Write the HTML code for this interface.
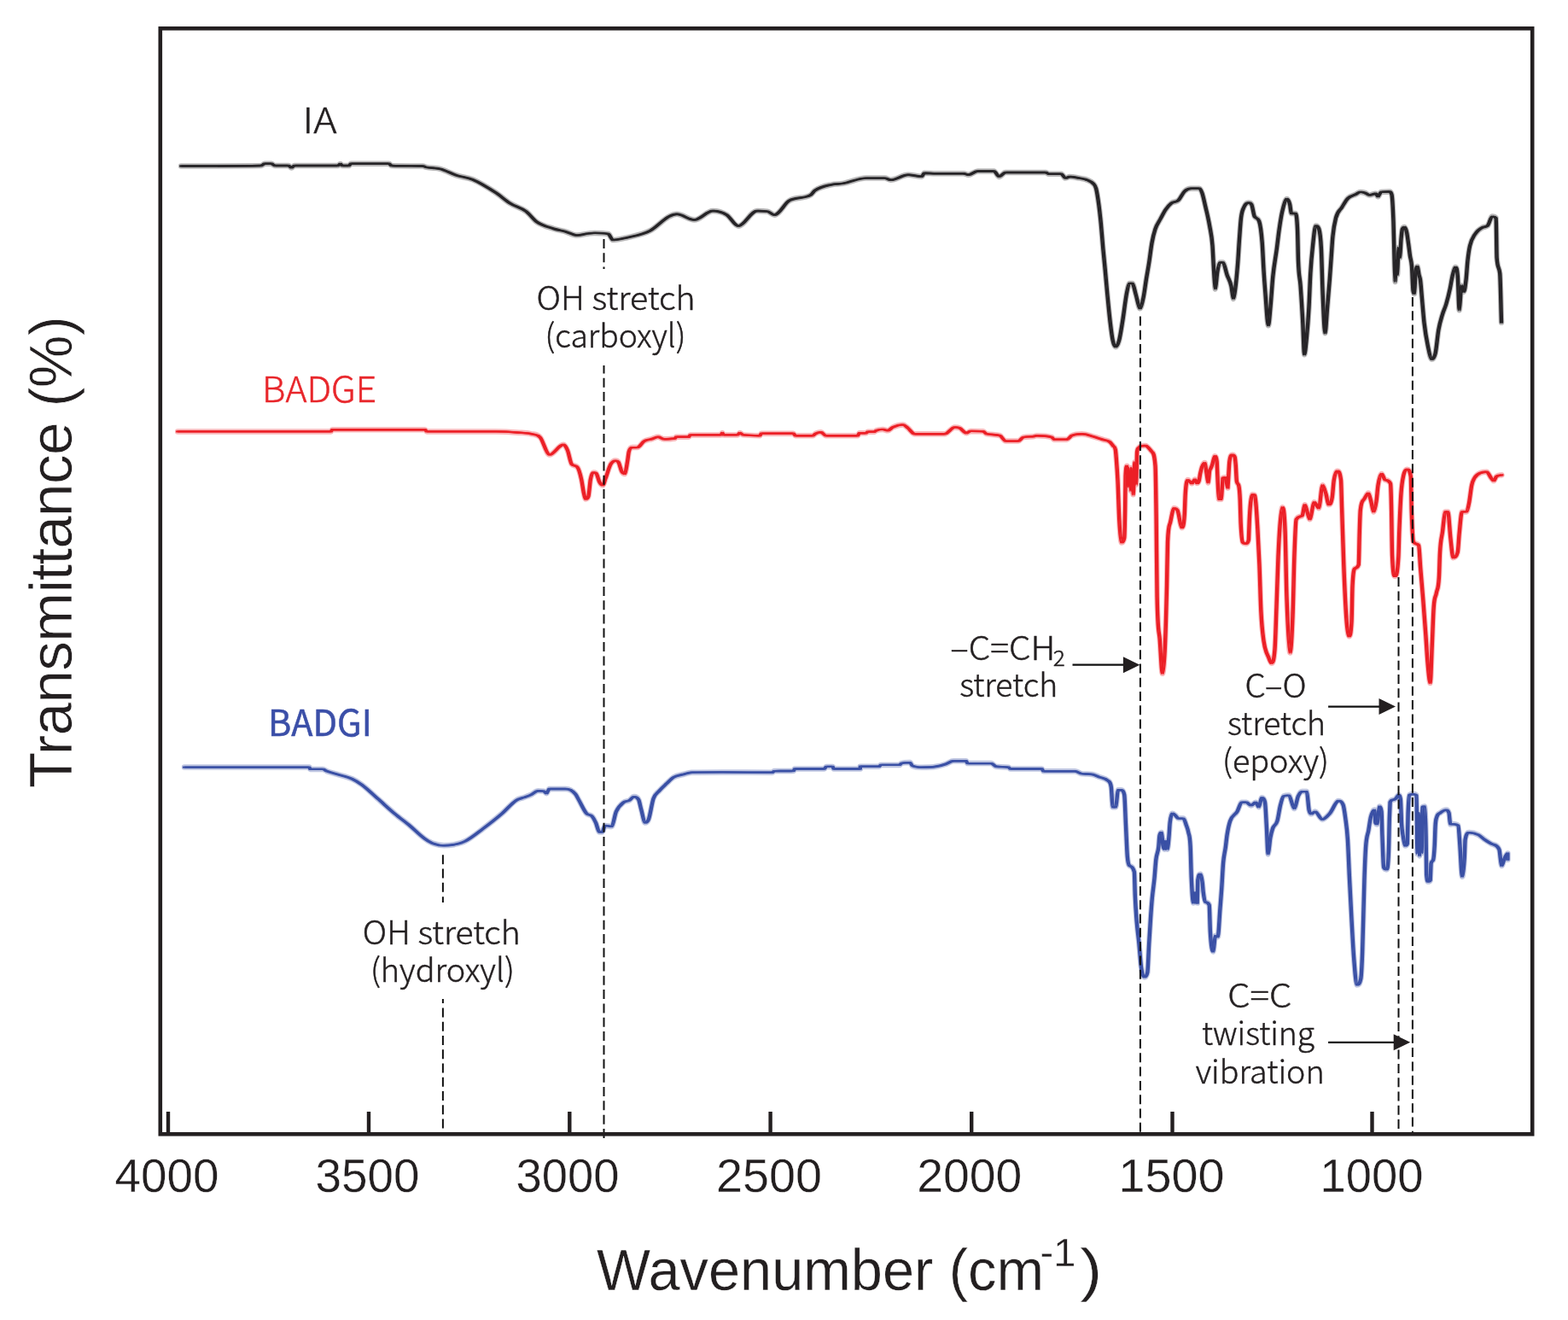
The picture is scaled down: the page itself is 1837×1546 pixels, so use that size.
<!DOCTYPE html>
<html><head><meta charset="utf-8"><title>FTIR spectra</title>
<style>
html,body{margin:0;padding:0;background:#fff;overflow:hidden;width:1837px;height:1546px;}
svg{display:block;}
</style></head><body>
<svg width="1837" height="1546" viewBox="0 0 1837 1546">
<rect x="0" y="0" width="1837" height="1546" fill="#fff"/>
<path d="M212.2,194.5 C243.5,194.5 274.7,194.5 306.0,194.0 C307.3,194.0 308.7,191.8 310.0,191.8 C312.7,191.8 315.3,191.8 318.0,191.8 C319.3,191.8 320.7,194.0 322.0,194.0 C327.3,194.0 332.7,194.0 338.0,194.0 C339.2,194.0 340.3,196.4 341.5,196.4 C342.7,196.4 343.8,194.0 345.0,194.0 C362.0,194.0 379.0,194.0 396.0,194.0 C396.9,194.0 397.8,192.0 398.7,192.0 C399.5,192.0 400.2,194.0 401.0,194.0 C403.7,194.0 406.3,194.0 409.0,194.0 C409.7,194.0 410.3,191.8 411.0,191.8 C425.9,191.8 440.9,191.8 455.8,191.8 C456.7,191.8 457.7,194.0 458.6,194.0 C470.8,194.5 483.1,194.3 495.3,194.5 C496.7,194.5 498.0,195.6 499.4,195.9 C504.8,197.1 510.3,196.4 515.7,197.8 C522.1,199.4 528.4,203.3 534.8,205.4 C541.1,207.5 547.5,207.7 553.8,210.3 C562.9,214.1 571.9,219.8 581.0,225.8 C586.5,229.4 591.9,234.6 597.4,238.0 C603.7,242.0 610.1,242.9 616.4,247.6 C620.5,250.7 624.6,256.9 628.7,259.8 C635.5,264.5 642.2,265.8 649.0,268.0 C653.6,269.5 658.1,270.0 662.7,271.3 C667.2,272.6 671.8,275.6 676.3,275.6 C680.9,275.6 685.4,273.9 690.0,273.4 C692.1,273.1 694.2,272.9 696.3,272.9 C701.8,272.9 707.2,272.9 712.7,274.0 C714.5,274.4 716.2,281.0 718.0,281.0 C723.5,281.0 728.9,279.6 734.4,278.3 C743.5,276.2 752.6,275.0 761.7,270.2 C768.9,266.4 776.2,257.7 783.4,253.8 C786.6,252.1 789.8,250.8 793.0,250.8 C799.8,250.8 806.6,257.6 813.4,257.6 C820.6,257.6 827.9,247.0 835.1,247.0 C840.6,247.0 846.0,248.3 851.5,251.7 C856.0,254.5 860.5,264.7 865.0,264.7 C872.3,264.7 879.6,247.0 886.9,247.0 C891.0,247.0 895.0,247.0 899.1,247.6 C901.8,248.0 904.6,251.7 907.3,251.7 C913.2,251.7 919.1,237.9 925.0,234.8 C933.2,230.5 941.3,233.1 949.5,228.5 C951.3,227.5 953.1,224.2 954.9,223.0 C961.3,218.6 967.6,217.7 974.0,216.3 C978.5,215.3 983.1,215.7 987.6,214.9 C996.7,213.4 1005.7,208.6 1014.8,208.6 C1022.1,208.6 1029.3,208.6 1036.6,208.6 C1038.9,208.6 1041.1,210.8 1043.4,210.8 C1050.2,210.8 1057.0,204.8 1063.8,204.8 C1069.2,204.8 1074.6,206.7 1080.0,206.7 C1080.9,206.7 1081.9,202.7 1082.8,202.7 C1087.3,202.7 1091.9,203.2 1096.4,203.2 C1107.3,203.2 1118.1,203.2 1129.0,203.2 C1130.8,203.2 1132.7,204.8 1134.5,204.8 C1138.1,204.8 1141.8,200.5 1145.4,200.5 C1151.8,200.5 1158.1,200.5 1164.5,200.5 C1166.5,200.5 1168.6,206.9 1170.6,206.9 C1173.1,206.9 1175.5,202.0 1178.0,202.0 C1193.8,202.0 1209.5,202.0 1225.3,202.0 C1226.4,202.0 1227.5,203.7 1228.6,203.7 C1233.5,203.7 1238.4,203.7 1243.3,203.7 C1244.9,203.7 1246.6,208.6 1248.2,208.6 C1249.8,208.6 1251.5,207.0 1253.1,207.0 C1256.9,207.0 1260.7,207.9 1264.5,208.6 C1267.8,209.2 1271.0,209.6 1274.3,211.0 C1276.5,212.0 1278.7,212.5 1280.9,215.1 C1282.0,216.4 1283.0,216.7 1284.1,220.8 C1285.2,225.0 1286.3,232.3 1287.4,240.4 C1288.2,246.3 1289.0,253.5 1289.8,261.7 C1290.6,270.3 1291.5,281.8 1292.3,291.0 C1293.1,299.8 1293.9,307.1 1294.7,315.6 C1295.5,324.5 1296.4,334.6 1297.2,343.3 C1298.3,354.8 1299.4,366.6 1300.5,376.0 C1301.6,385.1 1302.6,393.8 1303.7,398.8 C1304.8,404.0 1305.9,406.2 1307.0,406.2 C1308.4,406.2 1309.7,403.8 1311.1,398.8 C1312.5,393.8 1313.8,384.5 1315.2,376.0 C1316.8,366.1 1318.4,351.5 1320.0,343.3 C1321.1,337.7 1322.2,331.9 1323.3,331.9 C1324.4,331.9 1325.5,331.9 1326.6,331.9 C1328.0,331.9 1329.3,340.5 1330.7,345.0 C1332.3,350.3 1334.0,361.3 1335.6,361.3 C1336.9,361.3 1338.3,354.7 1339.6,348.2 C1340.7,342.9 1341.8,333.8 1342.9,327.0 C1344.0,320.2 1345.1,314.5 1346.2,307.4 C1347.3,300.3 1348.4,290.6 1349.5,284.5 C1350.8,277.2 1352.2,272.2 1353.5,268.2 C1355.4,262.4 1357.4,260.4 1359.3,256.8 C1361.5,252.8 1363.6,248.4 1365.8,245.3 C1368.0,242.2 1370.1,239.7 1372.3,238.0 C1375.0,235.9 1377.8,237.2 1380.5,234.7 C1382.9,232.4 1385.4,226.4 1387.8,224.1 C1390.3,221.8 1392.7,220.8 1395.2,220.8 C1398.5,220.8 1401.7,220.8 1405.0,220.8 C1406.1,220.8 1407.1,222.7 1408.2,225.7 C1409.6,229.5 1410.9,236.2 1412.3,242.1 C1413.9,249.2 1415.6,255.4 1417.2,264.9 C1418.3,271.3 1419.4,273.9 1420.5,287.8 C1421.0,294.6 1421.6,309.0 1422.1,317.2 C1422.7,325.9 1423.2,338.4 1423.8,338.4 C1424.6,338.4 1425.4,323.4 1426.2,318.8 C1427.3,312.4 1428.4,307.4 1429.5,307.4 C1430.6,307.4 1431.6,307.4 1432.7,307.4 C1434.3,307.4 1436.0,317.5 1437.6,322.1 C1439.2,326.7 1440.9,328.2 1442.5,335.2 C1443.3,338.8 1444.2,349.9 1445.0,349.9 C1445.8,349.9 1446.6,343.1 1447.4,336.8 C1448.3,330.0 1449.1,321.0 1450.0,310.0 C1450.7,301.6 1451.3,289.2 1452.0,280.0 C1452.7,270.8 1453.3,260.4 1454.0,255.0 C1455.1,246.3 1456.1,245.5 1457.2,242.9 C1459.0,238.6 1460.8,237.5 1462.6,237.5 C1463.8,237.5 1465.0,237.5 1466.2,239.3 C1467.4,241.1 1468.6,251.7 1469.8,253.6 C1471.6,256.5 1473.3,254.4 1475.1,259.0 C1476.3,262.1 1477.5,269.2 1478.7,284.2 C1479.3,291.7 1479.9,306.9 1480.5,316.5 C1481.1,326.1 1481.7,334.2 1482.3,341.7 C1483.5,356.7 1484.7,381.2 1485.9,381.2 C1486.8,381.2 1487.7,367.4 1488.6,357.8 C1489.5,348.2 1490.4,332.6 1491.3,323.7 C1492.8,308.8 1494.3,302.8 1495.8,291.4 C1496.7,284.6 1497.6,276.1 1498.5,269.8 C1499.7,261.4 1500.9,253.6 1502.1,248.3 C1503.9,240.4 1505.7,233.0 1507.5,233.0 C1508.7,233.0 1509.9,234.7 1511.1,239.3 C1511.7,241.6 1512.3,250.0 1512.9,250.0 C1514.4,250.0 1515.9,250.0 1517.4,250.0 C1518.3,250.0 1519.2,250.0 1520.1,269.8 C1520.4,276.4 1520.7,298.1 1521.0,305.7 C1521.9,327.8 1522.7,322.8 1523.6,334.5 C1524.5,346.7 1525.4,361.0 1526.3,377.6 C1526.9,388.7 1527.5,415.3 1528.1,415.3 C1529.0,415.3 1529.9,404.9 1530.8,395.6 C1531.7,386.3 1532.6,375.5 1533.5,359.6 C1534.1,349.0 1534.7,330.3 1535.3,320.1 C1536.2,304.8 1537.1,296.1 1538.0,287.8 C1539.2,276.7 1540.4,264.4 1541.6,264.4 C1542.8,264.4 1544.0,264.4 1545.2,268.0 C1546.1,270.7 1547.0,274.0 1547.9,291.4 C1548.5,303.0 1549.1,331.3 1549.7,345.3 C1550.6,366.3 1551.5,390.2 1552.4,390.2 C1553.3,390.2 1554.2,370.1 1555.1,359.6 C1556.0,349.1 1556.9,339.0 1557.8,327.3 C1558.4,319.5 1559.0,310.5 1559.6,302.1 C1560.2,293.7 1560.8,283.0 1561.4,277.0 C1562.6,265.0 1563.8,260.1 1565.0,255.4 C1567.4,246.2 1569.7,246.8 1572.1,242.9 C1574.5,239.0 1576.9,234.5 1579.3,232.1 C1582.3,229.1 1585.3,229.1 1588.3,227.6 C1590.1,226.7 1591.9,224.9 1593.7,224.9 C1595.5,224.9 1597.3,225.2 1599.1,225.8 C1600.9,226.4 1602.7,228.5 1604.5,228.5 C1606.9,228.5 1609.3,226.7 1611.7,226.7 C1612.6,226.7 1613.5,230.3 1614.4,230.3 C1615.6,230.3 1616.8,225.0 1618.0,224.9 C1621.3,224.5 1624.5,224.5 1627.8,224.5 C1628.7,224.5 1629.6,224.5 1630.5,228.0 C1631.2,230.6 1631.8,241.3 1632.5,260.0 C1632.8,269.3 1633.2,288.3 1633.5,300.0 C1633.8,311.7 1634.2,330.0 1634.5,330.0 C1635.0,330.0 1635.5,305.0 1636.0,305.0 C1636.3,305.0 1636.7,322.0 1637.0,322.0 C1637.5,322.0 1638.0,290.0 1638.5,290.0 C1639.0,290.0 1639.5,302.0 1640.0,302.0 C1640.5,302.0 1641.0,285.7 1641.5,280.0 C1642.0,274.3 1642.5,269.2 1643.0,268.0 C1643.8,266.0 1644.7,266.0 1645.5,266.0 C1646.3,266.0 1647.2,268.3 1648.0,272.0 C1648.7,275.0 1649.3,280.3 1650.0,285.0 C1650.7,289.7 1651.3,295.5 1652.0,300.0 C1652.7,304.5 1653.3,303.8 1654.0,312.0 C1654.5,318.2 1655.0,336.0 1655.5,340.0 C1656.0,344.0 1656.5,344.0 1657.0,344.0 C1657.5,344.0 1658.0,322.5 1658.5,318.0 C1659.2,312.0 1659.8,312.0 1660.5,312.0 C1661.2,312.0 1661.8,319.0 1662.5,322.0 C1663.0,324.2 1663.5,324.2 1664.0,328.0 C1664.7,333.0 1665.3,342.6 1666.0,350.0 C1666.8,359.2 1667.7,370.7 1668.5,378.0 C1669.9,390.3 1671.3,397.6 1672.7,404.5 C1674.2,411.9 1675.7,420.7 1677.2,420.7 C1678.7,420.7 1680.2,420.3 1681.7,413.5 C1682.9,408.1 1684.1,393.5 1685.3,386.6 C1686.8,378.0 1688.3,373.7 1689.8,368.6 C1691.3,363.5 1692.8,361.1 1694.3,356.0 C1695.8,350.9 1697.3,345.1 1698.8,338.1 C1699.7,333.9 1700.6,327.5 1701.5,323.7 C1702.7,318.7 1703.9,312.9 1705.1,312.9 C1706.0,312.9 1706.9,312.9 1707.8,323.7 C1708.4,330.9 1709.0,363.2 1709.6,363.2 C1710.5,363.2 1711.4,334.5 1712.3,334.5 C1713.2,334.5 1714.1,341.7 1715.0,341.7 C1715.9,341.7 1716.7,334.9 1717.6,327.3 C1718.2,322.0 1718.8,311.3 1719.4,305.7 C1720.3,297.3 1721.2,291.8 1722.1,287.8 C1723.9,279.7 1725.7,278.1 1727.5,275.2 C1730.8,269.9 1734.1,267.8 1737.4,266.2 C1739.2,265.4 1741.0,266.0 1742.8,264.4 C1744.6,262.8 1746.4,253.6 1748.2,253.6 C1749.7,253.6 1751.2,253.6 1752.7,255.4 C1753.0,255.8 1753.3,298.3 1753.6,302.1 C1754.8,317.2 1756.0,310.3 1757.2,320.1 C1757.8,325.0 1758.4,358.4 1759.0,377.6" fill="none" stroke="#262427" stroke-opacity="0.33" stroke-width="6.5" stroke-linejoin="round" stroke-linecap="round"/>
<path d="M212.2,194.5 C243.5,194.5 274.7,194.5 306.0,194.0 C307.3,194.0 308.7,191.8 310.0,191.8 C312.7,191.8 315.3,191.8 318.0,191.8 C319.3,191.8 320.7,194.0 322.0,194.0 C327.3,194.0 332.7,194.0 338.0,194.0 C339.2,194.0 340.3,196.4 341.5,196.4 C342.7,196.4 343.8,194.0 345.0,194.0 C362.0,194.0 379.0,194.0 396.0,194.0 C396.9,194.0 397.8,192.0 398.7,192.0 C399.5,192.0 400.2,194.0 401.0,194.0 C403.7,194.0 406.3,194.0 409.0,194.0 C409.7,194.0 410.3,191.8 411.0,191.8 C425.9,191.8 440.9,191.8 455.8,191.8 C456.7,191.8 457.7,194.0 458.6,194.0 C470.8,194.5 483.1,194.3 495.3,194.5 C496.7,194.5 498.0,195.6 499.4,195.9 C504.8,197.1 510.3,196.4 515.7,197.8 C522.1,199.4 528.4,203.3 534.8,205.4 C541.1,207.5 547.5,207.7 553.8,210.3 C562.9,214.1 571.9,219.8 581.0,225.8 C586.5,229.4 591.9,234.6 597.4,238.0 C603.7,242.0 610.1,242.9 616.4,247.6 C620.5,250.7 624.6,256.9 628.7,259.8 C635.5,264.5 642.2,265.8 649.0,268.0 C653.6,269.5 658.1,270.0 662.7,271.3 C667.2,272.6 671.8,275.6 676.3,275.6 C680.9,275.6 685.4,273.9 690.0,273.4 C692.1,273.1 694.2,272.9 696.3,272.9 C701.8,272.9 707.2,272.9 712.7,274.0 C714.5,274.4 716.2,281.0 718.0,281.0 C723.5,281.0 728.9,279.6 734.4,278.3 C743.5,276.2 752.6,275.0 761.7,270.2 C768.9,266.4 776.2,257.7 783.4,253.8 C786.6,252.1 789.8,250.8 793.0,250.8 C799.8,250.8 806.6,257.6 813.4,257.6 C820.6,257.6 827.9,247.0 835.1,247.0 C840.6,247.0 846.0,248.3 851.5,251.7 C856.0,254.5 860.5,264.7 865.0,264.7 C872.3,264.7 879.6,247.0 886.9,247.0 C891.0,247.0 895.0,247.0 899.1,247.6 C901.8,248.0 904.6,251.7 907.3,251.7 C913.2,251.7 919.1,237.9 925.0,234.8 C933.2,230.5 941.3,233.1 949.5,228.5 C951.3,227.5 953.1,224.2 954.9,223.0 C961.3,218.6 967.6,217.7 974.0,216.3 C978.5,215.3 983.1,215.7 987.6,214.9 C996.7,213.4 1005.7,208.6 1014.8,208.6 C1022.1,208.6 1029.3,208.6 1036.6,208.6 C1038.9,208.6 1041.1,210.8 1043.4,210.8 C1050.2,210.8 1057.0,204.8 1063.8,204.8 C1069.2,204.8 1074.6,206.7 1080.0,206.7 C1080.9,206.7 1081.9,202.7 1082.8,202.7 C1087.3,202.7 1091.9,203.2 1096.4,203.2 C1107.3,203.2 1118.1,203.2 1129.0,203.2 C1130.8,203.2 1132.7,204.8 1134.5,204.8 C1138.1,204.8 1141.8,200.5 1145.4,200.5 C1151.8,200.5 1158.1,200.5 1164.5,200.5 C1166.5,200.5 1168.6,206.9 1170.6,206.9 C1173.1,206.9 1175.5,202.0 1178.0,202.0 C1193.8,202.0 1209.5,202.0 1225.3,202.0 C1226.4,202.0 1227.5,203.7 1228.6,203.7 C1233.5,203.7 1238.4,203.7 1243.3,203.7 C1244.9,203.7 1246.6,208.6 1248.2,208.6 C1249.8,208.6 1251.5,207.0 1253.1,207.0 C1256.9,207.0 1260.7,207.9 1264.5,208.6 C1267.8,209.2 1271.0,209.6 1274.3,211.0 C1276.5,212.0 1278.7,212.5 1280.9,215.1 C1282.0,216.4 1283.0,216.7 1284.1,220.8 C1285.2,225.0 1286.3,232.3 1287.4,240.4 C1288.2,246.3 1289.0,253.5 1289.8,261.7 C1290.6,270.3 1291.5,281.8 1292.3,291.0 C1293.1,299.8 1293.9,307.1 1294.7,315.6 C1295.5,324.5 1296.4,334.6 1297.2,343.3 C1298.3,354.8 1299.4,366.6 1300.5,376.0 C1301.6,385.1 1302.6,393.8 1303.7,398.8 C1304.8,404.0 1305.9,406.2 1307.0,406.2 C1308.4,406.2 1309.7,403.8 1311.1,398.8 C1312.5,393.8 1313.8,384.5 1315.2,376.0 C1316.8,366.1 1318.4,351.5 1320.0,343.3 C1321.1,337.7 1322.2,331.9 1323.3,331.9 C1324.4,331.9 1325.5,331.9 1326.6,331.9 C1328.0,331.9 1329.3,340.5 1330.7,345.0 C1332.3,350.3 1334.0,361.3 1335.6,361.3 C1336.9,361.3 1338.3,354.7 1339.6,348.2 C1340.7,342.9 1341.8,333.8 1342.9,327.0 C1344.0,320.2 1345.1,314.5 1346.2,307.4 C1347.3,300.3 1348.4,290.6 1349.5,284.5 C1350.8,277.2 1352.2,272.2 1353.5,268.2 C1355.4,262.4 1357.4,260.4 1359.3,256.8 C1361.5,252.8 1363.6,248.4 1365.8,245.3 C1368.0,242.2 1370.1,239.7 1372.3,238.0 C1375.0,235.9 1377.8,237.2 1380.5,234.7 C1382.9,232.4 1385.4,226.4 1387.8,224.1 C1390.3,221.8 1392.7,220.8 1395.2,220.8 C1398.5,220.8 1401.7,220.8 1405.0,220.8 C1406.1,220.8 1407.1,222.7 1408.2,225.7 C1409.6,229.5 1410.9,236.2 1412.3,242.1 C1413.9,249.2 1415.6,255.4 1417.2,264.9 C1418.3,271.3 1419.4,273.9 1420.5,287.8 C1421.0,294.6 1421.6,309.0 1422.1,317.2 C1422.7,325.9 1423.2,338.4 1423.8,338.4 C1424.6,338.4 1425.4,323.4 1426.2,318.8 C1427.3,312.4 1428.4,307.4 1429.5,307.4 C1430.6,307.4 1431.6,307.4 1432.7,307.4 C1434.3,307.4 1436.0,317.5 1437.6,322.1 C1439.2,326.7 1440.9,328.2 1442.5,335.2 C1443.3,338.8 1444.2,349.9 1445.0,349.9 C1445.8,349.9 1446.6,343.1 1447.4,336.8 C1448.3,330.0 1449.1,321.0 1450.0,310.0 C1450.7,301.6 1451.3,289.2 1452.0,280.0 C1452.7,270.8 1453.3,260.4 1454.0,255.0 C1455.1,246.3 1456.1,245.5 1457.2,242.9 C1459.0,238.6 1460.8,237.5 1462.6,237.5 C1463.8,237.5 1465.0,237.5 1466.2,239.3 C1467.4,241.1 1468.6,251.7 1469.8,253.6 C1471.6,256.5 1473.3,254.4 1475.1,259.0 C1476.3,262.1 1477.5,269.2 1478.7,284.2 C1479.3,291.7 1479.9,306.9 1480.5,316.5 C1481.1,326.1 1481.7,334.2 1482.3,341.7 C1483.5,356.7 1484.7,381.2 1485.9,381.2 C1486.8,381.2 1487.7,367.4 1488.6,357.8 C1489.5,348.2 1490.4,332.6 1491.3,323.7 C1492.8,308.8 1494.3,302.8 1495.8,291.4 C1496.7,284.6 1497.6,276.1 1498.5,269.8 C1499.7,261.4 1500.9,253.6 1502.1,248.3 C1503.9,240.4 1505.7,233.0 1507.5,233.0 C1508.7,233.0 1509.9,234.7 1511.1,239.3 C1511.7,241.6 1512.3,250.0 1512.9,250.0 C1514.4,250.0 1515.9,250.0 1517.4,250.0 C1518.3,250.0 1519.2,250.0 1520.1,269.8 C1520.4,276.4 1520.7,298.1 1521.0,305.7 C1521.9,327.8 1522.7,322.8 1523.6,334.5 C1524.5,346.7 1525.4,361.0 1526.3,377.6 C1526.9,388.7 1527.5,415.3 1528.1,415.3 C1529.0,415.3 1529.9,404.9 1530.8,395.6 C1531.7,386.3 1532.6,375.5 1533.5,359.6 C1534.1,349.0 1534.7,330.3 1535.3,320.1 C1536.2,304.8 1537.1,296.1 1538.0,287.8 C1539.2,276.7 1540.4,264.4 1541.6,264.4 C1542.8,264.4 1544.0,264.4 1545.2,268.0 C1546.1,270.7 1547.0,274.0 1547.9,291.4 C1548.5,303.0 1549.1,331.3 1549.7,345.3 C1550.6,366.3 1551.5,390.2 1552.4,390.2 C1553.3,390.2 1554.2,370.1 1555.1,359.6 C1556.0,349.1 1556.9,339.0 1557.8,327.3 C1558.4,319.5 1559.0,310.5 1559.6,302.1 C1560.2,293.7 1560.8,283.0 1561.4,277.0 C1562.6,265.0 1563.8,260.1 1565.0,255.4 C1567.4,246.2 1569.7,246.8 1572.1,242.9 C1574.5,239.0 1576.9,234.5 1579.3,232.1 C1582.3,229.1 1585.3,229.1 1588.3,227.6 C1590.1,226.7 1591.9,224.9 1593.7,224.9 C1595.5,224.9 1597.3,225.2 1599.1,225.8 C1600.9,226.4 1602.7,228.5 1604.5,228.5 C1606.9,228.5 1609.3,226.7 1611.7,226.7 C1612.6,226.7 1613.5,230.3 1614.4,230.3 C1615.6,230.3 1616.8,225.0 1618.0,224.9 C1621.3,224.5 1624.5,224.5 1627.8,224.5 C1628.7,224.5 1629.6,224.5 1630.5,228.0 C1631.2,230.6 1631.8,241.3 1632.5,260.0 C1632.8,269.3 1633.2,288.3 1633.5,300.0 C1633.8,311.7 1634.2,330.0 1634.5,330.0 C1635.0,330.0 1635.5,305.0 1636.0,305.0 C1636.3,305.0 1636.7,322.0 1637.0,322.0 C1637.5,322.0 1638.0,290.0 1638.5,290.0 C1639.0,290.0 1639.5,302.0 1640.0,302.0 C1640.5,302.0 1641.0,285.7 1641.5,280.0 C1642.0,274.3 1642.5,269.2 1643.0,268.0 C1643.8,266.0 1644.7,266.0 1645.5,266.0 C1646.3,266.0 1647.2,268.3 1648.0,272.0 C1648.7,275.0 1649.3,280.3 1650.0,285.0 C1650.7,289.7 1651.3,295.5 1652.0,300.0 C1652.7,304.5 1653.3,303.8 1654.0,312.0 C1654.5,318.2 1655.0,336.0 1655.5,340.0 C1656.0,344.0 1656.5,344.0 1657.0,344.0 C1657.5,344.0 1658.0,322.5 1658.5,318.0 C1659.2,312.0 1659.8,312.0 1660.5,312.0 C1661.2,312.0 1661.8,319.0 1662.5,322.0 C1663.0,324.2 1663.5,324.2 1664.0,328.0 C1664.7,333.0 1665.3,342.6 1666.0,350.0 C1666.8,359.2 1667.7,370.7 1668.5,378.0 C1669.9,390.3 1671.3,397.6 1672.7,404.5 C1674.2,411.9 1675.7,420.7 1677.2,420.7 C1678.7,420.7 1680.2,420.3 1681.7,413.5 C1682.9,408.1 1684.1,393.5 1685.3,386.6 C1686.8,378.0 1688.3,373.7 1689.8,368.6 C1691.3,363.5 1692.8,361.1 1694.3,356.0 C1695.8,350.9 1697.3,345.1 1698.8,338.1 C1699.7,333.9 1700.6,327.5 1701.5,323.7 C1702.7,318.7 1703.9,312.9 1705.1,312.9 C1706.0,312.9 1706.9,312.9 1707.8,323.7 C1708.4,330.9 1709.0,363.2 1709.6,363.2 C1710.5,363.2 1711.4,334.5 1712.3,334.5 C1713.2,334.5 1714.1,341.7 1715.0,341.7 C1715.9,341.7 1716.7,334.9 1717.6,327.3 C1718.2,322.0 1718.8,311.3 1719.4,305.7 C1720.3,297.3 1721.2,291.8 1722.1,287.8 C1723.9,279.7 1725.7,278.1 1727.5,275.2 C1730.8,269.9 1734.1,267.8 1737.4,266.2 C1739.2,265.4 1741.0,266.0 1742.8,264.4 C1744.6,262.8 1746.4,253.6 1748.2,253.6 C1749.7,253.6 1751.2,253.6 1752.7,255.4 C1753.0,255.8 1753.3,298.3 1753.6,302.1 C1754.8,317.2 1756.0,310.3 1757.2,320.1 C1757.8,325.0 1758.4,358.4 1759.0,377.6" transform="translate(-1.00,0)" fill="none" stroke="#262427" stroke-width="2.4" stroke-linejoin="round" stroke-linecap="round"/>
<path d="M212.2,194.5 C243.5,194.5 274.7,194.5 306.0,194.0 C307.3,194.0 308.7,191.8 310.0,191.8 C312.7,191.8 315.3,191.8 318.0,191.8 C319.3,191.8 320.7,194.0 322.0,194.0 C327.3,194.0 332.7,194.0 338.0,194.0 C339.2,194.0 340.3,196.4 341.5,196.4 C342.7,196.4 343.8,194.0 345.0,194.0 C362.0,194.0 379.0,194.0 396.0,194.0 C396.9,194.0 397.8,192.0 398.7,192.0 C399.5,192.0 400.2,194.0 401.0,194.0 C403.7,194.0 406.3,194.0 409.0,194.0 C409.7,194.0 410.3,191.8 411.0,191.8 C425.9,191.8 440.9,191.8 455.8,191.8 C456.7,191.8 457.7,194.0 458.6,194.0 C470.8,194.5 483.1,194.3 495.3,194.5 C496.7,194.5 498.0,195.6 499.4,195.9 C504.8,197.1 510.3,196.4 515.7,197.8 C522.1,199.4 528.4,203.3 534.8,205.4 C541.1,207.5 547.5,207.7 553.8,210.3 C562.9,214.1 571.9,219.8 581.0,225.8 C586.5,229.4 591.9,234.6 597.4,238.0 C603.7,242.0 610.1,242.9 616.4,247.6 C620.5,250.7 624.6,256.9 628.7,259.8 C635.5,264.5 642.2,265.8 649.0,268.0 C653.6,269.5 658.1,270.0 662.7,271.3 C667.2,272.6 671.8,275.6 676.3,275.6 C680.9,275.6 685.4,273.9 690.0,273.4 C692.1,273.1 694.2,272.9 696.3,272.9 C701.8,272.9 707.2,272.9 712.7,274.0 C714.5,274.4 716.2,281.0 718.0,281.0 C723.5,281.0 728.9,279.6 734.4,278.3 C743.5,276.2 752.6,275.0 761.7,270.2 C768.9,266.4 776.2,257.7 783.4,253.8 C786.6,252.1 789.8,250.8 793.0,250.8 C799.8,250.8 806.6,257.6 813.4,257.6 C820.6,257.6 827.9,247.0 835.1,247.0 C840.6,247.0 846.0,248.3 851.5,251.7 C856.0,254.5 860.5,264.7 865.0,264.7 C872.3,264.7 879.6,247.0 886.9,247.0 C891.0,247.0 895.0,247.0 899.1,247.6 C901.8,248.0 904.6,251.7 907.3,251.7 C913.2,251.7 919.1,237.9 925.0,234.8 C933.2,230.5 941.3,233.1 949.5,228.5 C951.3,227.5 953.1,224.2 954.9,223.0 C961.3,218.6 967.6,217.7 974.0,216.3 C978.5,215.3 983.1,215.7 987.6,214.9 C996.7,213.4 1005.7,208.6 1014.8,208.6 C1022.1,208.6 1029.3,208.6 1036.6,208.6 C1038.9,208.6 1041.1,210.8 1043.4,210.8 C1050.2,210.8 1057.0,204.8 1063.8,204.8 C1069.2,204.8 1074.6,206.7 1080.0,206.7 C1080.9,206.7 1081.9,202.7 1082.8,202.7 C1087.3,202.7 1091.9,203.2 1096.4,203.2 C1107.3,203.2 1118.1,203.2 1129.0,203.2 C1130.8,203.2 1132.7,204.8 1134.5,204.8 C1138.1,204.8 1141.8,200.5 1145.4,200.5 C1151.8,200.5 1158.1,200.5 1164.5,200.5 C1166.5,200.5 1168.6,206.9 1170.6,206.9 C1173.1,206.9 1175.5,202.0 1178.0,202.0 C1193.8,202.0 1209.5,202.0 1225.3,202.0 C1226.4,202.0 1227.5,203.7 1228.6,203.7 C1233.5,203.7 1238.4,203.7 1243.3,203.7 C1244.9,203.7 1246.6,208.6 1248.2,208.6 C1249.8,208.6 1251.5,207.0 1253.1,207.0 C1256.9,207.0 1260.7,207.9 1264.5,208.6 C1267.8,209.2 1271.0,209.6 1274.3,211.0 C1276.5,212.0 1278.7,212.5 1280.9,215.1 C1282.0,216.4 1283.0,216.7 1284.1,220.8 C1285.2,225.0 1286.3,232.3 1287.4,240.4 C1288.2,246.3 1289.0,253.5 1289.8,261.7 C1290.6,270.3 1291.5,281.8 1292.3,291.0 C1293.1,299.8 1293.9,307.1 1294.7,315.6 C1295.5,324.5 1296.4,334.6 1297.2,343.3 C1298.3,354.8 1299.4,366.6 1300.5,376.0 C1301.6,385.1 1302.6,393.8 1303.7,398.8 C1304.8,404.0 1305.9,406.2 1307.0,406.2 C1308.4,406.2 1309.7,403.8 1311.1,398.8 C1312.5,393.8 1313.8,384.5 1315.2,376.0 C1316.8,366.1 1318.4,351.5 1320.0,343.3 C1321.1,337.7 1322.2,331.9 1323.3,331.9 C1324.4,331.9 1325.5,331.9 1326.6,331.9 C1328.0,331.9 1329.3,340.5 1330.7,345.0 C1332.3,350.3 1334.0,361.3 1335.6,361.3 C1336.9,361.3 1338.3,354.7 1339.6,348.2 C1340.7,342.9 1341.8,333.8 1342.9,327.0 C1344.0,320.2 1345.1,314.5 1346.2,307.4 C1347.3,300.3 1348.4,290.6 1349.5,284.5 C1350.8,277.2 1352.2,272.2 1353.5,268.2 C1355.4,262.4 1357.4,260.4 1359.3,256.8 C1361.5,252.8 1363.6,248.4 1365.8,245.3 C1368.0,242.2 1370.1,239.7 1372.3,238.0 C1375.0,235.9 1377.8,237.2 1380.5,234.7 C1382.9,232.4 1385.4,226.4 1387.8,224.1 C1390.3,221.8 1392.7,220.8 1395.2,220.8 C1398.5,220.8 1401.7,220.8 1405.0,220.8 C1406.1,220.8 1407.1,222.7 1408.2,225.7 C1409.6,229.5 1410.9,236.2 1412.3,242.1 C1413.9,249.2 1415.6,255.4 1417.2,264.9 C1418.3,271.3 1419.4,273.9 1420.5,287.8 C1421.0,294.6 1421.6,309.0 1422.1,317.2 C1422.7,325.9 1423.2,338.4 1423.8,338.4 C1424.6,338.4 1425.4,323.4 1426.2,318.8 C1427.3,312.4 1428.4,307.4 1429.5,307.4 C1430.6,307.4 1431.6,307.4 1432.7,307.4 C1434.3,307.4 1436.0,317.5 1437.6,322.1 C1439.2,326.7 1440.9,328.2 1442.5,335.2 C1443.3,338.8 1444.2,349.9 1445.0,349.9 C1445.8,349.9 1446.6,343.1 1447.4,336.8 C1448.3,330.0 1449.1,321.0 1450.0,310.0 C1450.7,301.6 1451.3,289.2 1452.0,280.0 C1452.7,270.8 1453.3,260.4 1454.0,255.0 C1455.1,246.3 1456.1,245.5 1457.2,242.9 C1459.0,238.6 1460.8,237.5 1462.6,237.5 C1463.8,237.5 1465.0,237.5 1466.2,239.3 C1467.4,241.1 1468.6,251.7 1469.8,253.6 C1471.6,256.5 1473.3,254.4 1475.1,259.0 C1476.3,262.1 1477.5,269.2 1478.7,284.2 C1479.3,291.7 1479.9,306.9 1480.5,316.5 C1481.1,326.1 1481.7,334.2 1482.3,341.7 C1483.5,356.7 1484.7,381.2 1485.9,381.2 C1486.8,381.2 1487.7,367.4 1488.6,357.8 C1489.5,348.2 1490.4,332.6 1491.3,323.7 C1492.8,308.8 1494.3,302.8 1495.8,291.4 C1496.7,284.6 1497.6,276.1 1498.5,269.8 C1499.7,261.4 1500.9,253.6 1502.1,248.3 C1503.9,240.4 1505.7,233.0 1507.5,233.0 C1508.7,233.0 1509.9,234.7 1511.1,239.3 C1511.7,241.6 1512.3,250.0 1512.9,250.0 C1514.4,250.0 1515.9,250.0 1517.4,250.0 C1518.3,250.0 1519.2,250.0 1520.1,269.8 C1520.4,276.4 1520.7,298.1 1521.0,305.7 C1521.9,327.8 1522.7,322.8 1523.6,334.5 C1524.5,346.7 1525.4,361.0 1526.3,377.6 C1526.9,388.7 1527.5,415.3 1528.1,415.3 C1529.0,415.3 1529.9,404.9 1530.8,395.6 C1531.7,386.3 1532.6,375.5 1533.5,359.6 C1534.1,349.0 1534.7,330.3 1535.3,320.1 C1536.2,304.8 1537.1,296.1 1538.0,287.8 C1539.2,276.7 1540.4,264.4 1541.6,264.4 C1542.8,264.4 1544.0,264.4 1545.2,268.0 C1546.1,270.7 1547.0,274.0 1547.9,291.4 C1548.5,303.0 1549.1,331.3 1549.7,345.3 C1550.6,366.3 1551.5,390.2 1552.4,390.2 C1553.3,390.2 1554.2,370.1 1555.1,359.6 C1556.0,349.1 1556.9,339.0 1557.8,327.3 C1558.4,319.5 1559.0,310.5 1559.6,302.1 C1560.2,293.7 1560.8,283.0 1561.4,277.0 C1562.6,265.0 1563.8,260.1 1565.0,255.4 C1567.4,246.2 1569.7,246.8 1572.1,242.9 C1574.5,239.0 1576.9,234.5 1579.3,232.1 C1582.3,229.1 1585.3,229.1 1588.3,227.6 C1590.1,226.7 1591.9,224.9 1593.7,224.9 C1595.5,224.9 1597.3,225.2 1599.1,225.8 C1600.9,226.4 1602.7,228.5 1604.5,228.5 C1606.9,228.5 1609.3,226.7 1611.7,226.7 C1612.6,226.7 1613.5,230.3 1614.4,230.3 C1615.6,230.3 1616.8,225.0 1618.0,224.9 C1621.3,224.5 1624.5,224.5 1627.8,224.5 C1628.7,224.5 1629.6,224.5 1630.5,228.0 C1631.2,230.6 1631.8,241.3 1632.5,260.0 C1632.8,269.3 1633.2,288.3 1633.5,300.0 C1633.8,311.7 1634.2,330.0 1634.5,330.0 C1635.0,330.0 1635.5,305.0 1636.0,305.0 C1636.3,305.0 1636.7,322.0 1637.0,322.0 C1637.5,322.0 1638.0,290.0 1638.5,290.0 C1639.0,290.0 1639.5,302.0 1640.0,302.0 C1640.5,302.0 1641.0,285.7 1641.5,280.0 C1642.0,274.3 1642.5,269.2 1643.0,268.0 C1643.8,266.0 1644.7,266.0 1645.5,266.0 C1646.3,266.0 1647.2,268.3 1648.0,272.0 C1648.7,275.0 1649.3,280.3 1650.0,285.0 C1650.7,289.7 1651.3,295.5 1652.0,300.0 C1652.7,304.5 1653.3,303.8 1654.0,312.0 C1654.5,318.2 1655.0,336.0 1655.5,340.0 C1656.0,344.0 1656.5,344.0 1657.0,344.0 C1657.5,344.0 1658.0,322.5 1658.5,318.0 C1659.2,312.0 1659.8,312.0 1660.5,312.0 C1661.2,312.0 1661.8,319.0 1662.5,322.0 C1663.0,324.2 1663.5,324.2 1664.0,328.0 C1664.7,333.0 1665.3,342.6 1666.0,350.0 C1666.8,359.2 1667.7,370.7 1668.5,378.0 C1669.9,390.3 1671.3,397.6 1672.7,404.5 C1674.2,411.9 1675.7,420.7 1677.2,420.7 C1678.7,420.7 1680.2,420.3 1681.7,413.5 C1682.9,408.1 1684.1,393.5 1685.3,386.6 C1686.8,378.0 1688.3,373.7 1689.8,368.6 C1691.3,363.5 1692.8,361.1 1694.3,356.0 C1695.8,350.9 1697.3,345.1 1698.8,338.1 C1699.7,333.9 1700.6,327.5 1701.5,323.7 C1702.7,318.7 1703.9,312.9 1705.1,312.9 C1706.0,312.9 1706.9,312.9 1707.8,323.7 C1708.4,330.9 1709.0,363.2 1709.6,363.2 C1710.5,363.2 1711.4,334.5 1712.3,334.5 C1713.2,334.5 1714.1,341.7 1715.0,341.7 C1715.9,341.7 1716.7,334.9 1717.6,327.3 C1718.2,322.0 1718.8,311.3 1719.4,305.7 C1720.3,297.3 1721.2,291.8 1722.1,287.8 C1723.9,279.7 1725.7,278.1 1727.5,275.2 C1730.8,269.9 1734.1,267.8 1737.4,266.2 C1739.2,265.4 1741.0,266.0 1742.8,264.4 C1744.6,262.8 1746.4,253.6 1748.2,253.6 C1749.7,253.6 1751.2,253.6 1752.7,255.4 C1753.0,255.8 1753.3,298.3 1753.6,302.1 C1754.8,317.2 1756.0,310.3 1757.2,320.1 C1757.8,325.0 1758.4,358.4 1759.0,377.6" transform="translate(1.00,0)" fill="none" stroke="#262427" stroke-width="2.4" stroke-linejoin="round" stroke-linecap="round"/>
<path d="M208.2,505.4 C268.1,505.4 327.9,505.4 387.8,505.4 C388.3,505.4 388.7,503.2 389.2,503.2 C425.5,503.2 461.7,503.2 498.0,503.2 C498.7,503.2 499.3,505.4 500.0,505.4 C527.0,505.4 554.0,505.4 581.0,505.4 C590.1,505.4 599.2,506.0 608.3,506.7 C612.8,507.0 617.4,507.0 621.9,508.1 C625.5,509.0 629.2,508.2 632.8,512.2 C636.4,516.2 640.1,532.6 643.7,532.6 C649.1,532.6 654.6,520.8 660.0,520.8 C661.6,520.8 663.3,523.6 664.9,527.4 C666.5,531.2 668.2,541.9 669.8,543.7 C672.0,546.1 674.1,544.8 676.3,547.0 C677.9,548.7 679.6,554.4 681.2,561.7 C682.0,565.4 682.9,572.5 683.7,576.4 C684.5,580.1 685.3,584.5 686.1,584.5 C687.2,584.5 688.3,584.5 689.4,581.3 C690.2,579.0 691.0,566.0 691.8,561.7 C692.9,555.8 694.0,553.5 695.1,553.5 C696.2,553.5 697.3,553.5 698.4,554.3 C699.8,555.3 701.1,562.6 702.5,564.9 C703.8,567.2 705.2,568.2 706.5,568.2 C707.3,568.2 708.2,563.9 709.0,561.7 C711.2,555.9 713.3,547.5 715.5,543.7 C717.4,540.4 719.3,539.6 721.2,539.6 C722.3,539.6 723.4,539.6 724.5,541.2 C725.9,543.2 727.2,550.3 728.6,552.7 C729.7,554.6 730.8,555.1 731.9,555.1 C733.0,555.1 734.0,546.4 735.1,540.4 C735.7,537.2 736.2,531.1 736.8,529.0 C738.1,524.1 739.5,524.1 740.8,524.1 C742.7,524.1 744.7,524.1 746.6,524.1 C749.3,524.1 752.0,518.3 754.7,516.7 C757.4,515.1 760.2,515.1 762.9,514.3 C765.6,513.5 768.4,511.8 771.1,511.8 C773.3,511.8 775.4,514.3 777.6,514.3 C782.0,514.3 786.3,514.3 790.7,513.5 C791.2,513.4 791.8,511.8 792.3,511.8 C797.2,511.8 802.1,511.8 807.0,511.8 C807.5,511.8 808.1,509.4 808.6,509.4 C820.6,509.4 832.6,509.4 844.6,509.4 C845.1,509.4 845.7,506.9 846.2,506.9 C846.8,506.9 847.4,509.4 848.0,509.4 C853.4,509.4 858.8,509.4 864.2,509.4 C865.0,509.4 865.8,506.9 866.6,506.9 C868.0,506.9 869.3,509.2 870.7,509.4 C877.2,510.2 883.8,510.2 890.3,510.2 C890.8,510.2 891.4,507.8 891.9,507.8 C904.4,507.8 917.0,507.8 929.5,507.8 C930.3,507.8 931.1,510.2 931.9,510.2 C938.7,510.2 945.5,510.2 952.3,510.2 C953.4,510.2 954.5,508.3 955.6,507.8 C957.7,506.8 959.7,506.3 961.8,506.3 C963.7,506.3 965.7,510.2 967.6,510.2 C980.0,510.2 992.5,510.2 1004.9,510.2 C1005.5,510.2 1006.2,507.2 1006.8,507.2 C1009.4,507.2 1012.1,507.2 1014.7,507.2 C1015.3,507.2 1016.0,505.7 1016.6,505.7 C1019.2,505.7 1021.9,505.7 1024.5,505.7 C1025.1,505.7 1025.8,504.6 1026.4,504.3 C1029.0,503.1 1031.7,502.9 1034.3,502.9 C1036.2,502.9 1038.2,504.3 1040.1,504.3 C1042.1,504.3 1044.0,501.3 1046.0,500.4 C1049.9,498.6 1053.9,497.4 1057.8,497.4 C1059.8,497.4 1061.7,499.9 1063.7,501.4 C1066.3,503.4 1068.9,508.2 1071.5,508.2 C1083.3,508.2 1095.0,508.2 1106.8,508.2 C1110.7,508.2 1114.6,500.4 1118.5,500.4 C1120.5,500.4 1122.4,500.5 1124.4,501.4 C1127.0,502.6 1129.6,507.2 1132.2,507.2 C1133.8,507.2 1135.5,504.9 1137.1,504.9 C1142.0,504.9 1146.9,504.9 1151.8,505.3 C1153.1,505.4 1154.5,507.9 1155.8,508.2 C1161.0,509.5 1166.2,508.6 1171.4,510.2 C1173.7,510.9 1176.0,516.6 1178.3,516.6 C1183.2,516.6 1188.1,516.6 1193.0,516.6 C1195.0,516.6 1196.9,512.5 1198.9,512.1 C1202.8,511.3 1206.7,511.5 1210.6,511.2 C1211.9,511.1 1213.2,510.2 1214.5,510.2 C1220.4,510.2 1226.3,510.2 1232.2,512.1 C1233.2,512.4 1234.1,514.7 1235.1,514.7 C1240.0,514.7 1244.9,514.7 1249.8,514.7 C1251.8,514.7 1253.7,511.1 1255.7,510.2 C1259.6,508.4 1263.6,508.2 1267.5,508.2 C1271.4,508.2 1275.3,509.8 1279.2,510.8 C1283.8,512.0 1288.3,513.6 1292.9,515.1 C1295.4,515.9 1297.9,515.7 1300.4,517.7 C1301.6,518.7 1302.9,520.7 1304.1,522.2 C1305.0,523.3 1305.9,522.3 1306.8,526.7 C1307.1,528.2 1307.4,532.0 1307.7,535.8 C1308.3,543.4 1308.9,550.8 1309.5,563.0 C1310.1,575.2 1310.7,598.6 1311.3,609.2 C1312.2,625.1 1313.1,635.4 1314.0,635.4 C1315.1,635.4 1316.1,635.4 1317.2,630.0 C1317.5,628.5 1317.8,615.8 1318.1,598.3 L1318.6,557.5 C1319.2,545.8 1319.8,545.8 1320.4,545.8 C1321.0,545.8 1321.6,570.2 1322.2,570.2 C1322.6,570.2 1323.1,548.0 1323.5,548.0 C1324.0,548.0 1324.5,575.0 1325.0,575.0 C1325.4,575.0 1325.9,548.0 1326.3,548.0 C1326.7,548.0 1327.2,579.3 1327.6,579.3 C1328.2,579.3 1328.8,541.2 1329.4,541.2 C1330.0,541.2 1330.6,567.5 1331.2,567.5 C1331.5,567.5 1331.8,531.9 1332.1,529.5 C1332.7,524.5 1333.4,524.9 1334.0,524.5 C1334.9,523.9 1335.8,522.3 1336.7,522.2 C1338.5,522.0 1340.2,522.0 1342.0,522.0 C1344.5,522.0 1346.9,526.4 1349.4,529.0 C1350.8,530.4 1352.1,529.1 1353.5,545.5 C1353.9,549.9 1354.2,576.4 1354.6,603.5 C1354.9,628.2 1355.3,683.3 1355.6,698.8 C1356.6,746.8 1357.7,735.9 1358.7,748.4 C1359.7,760.9 1360.8,788.8 1361.8,788.8 C1362.8,788.8 1363.9,779.4 1364.9,756.7 C1365.6,741.3 1366.3,716.1 1367.0,686.3 C1367.3,672.1 1367.7,641.8 1368.0,634.6 C1369.0,612.2 1370.1,616.1 1371.1,611.8 C1372.5,606.0 1373.9,595.2 1375.3,595.2 C1376.7,595.2 1378.0,595.2 1379.4,597.3 C1381.1,600.0 1382.9,618.0 1384.6,618.0 C1385.6,618.0 1386.7,618.0 1387.7,603.5 C1388.0,598.8 1388.4,583.7 1388.7,578.7 C1389.7,563.1 1390.8,562.1 1391.8,562.1 C1393.3,562.1 1394.8,566.2 1396.3,566.2 C1397.5,566.2 1398.8,561.5 1400.0,561.5 C1400.8,561.5 1401.7,566.0 1402.5,566.0 C1403.2,566.0 1404.0,565.6 1404.7,563.0 C1405.2,561.2 1405.7,556.8 1406.2,554.5 C1407.0,550.9 1407.7,547.9 1408.5,546.0 C1409.5,543.4 1410.6,542.1 1411.6,542.1 C1412.3,542.1 1412.9,550.5 1413.6,554.5 C1414.2,558.3 1414.9,565.4 1415.5,565.4 C1416.0,565.4 1416.5,554.8 1417.0,552.0 C1417.5,549.0 1418.1,549.6 1418.6,548.3 C1419.1,547.0 1419.7,545.9 1420.2,544.4 C1421.2,541.5 1422.3,534.3 1423.3,534.3 C1424.1,534.3 1424.8,534.3 1425.6,540.5 C1425.9,542.7 1426.1,552.5 1426.4,557.6 C1426.9,567.8 1427.5,584.8 1428.0,584.8 C1428.9,584.8 1429.8,584.8 1430.7,584.8 C1431.1,584.8 1431.4,576.5 1431.8,571.6 L1432.6,559.9 C1433.6,559.2 1434.7,559.2 1435.7,559.2 C1436.6,559.2 1437.5,571.6 1438.4,571.6 L1439.2,559.2 C1439.6,553.0 1440.0,543.5 1440.4,540.5 C1441.4,532.8 1442.5,532.8 1443.5,532.8 C1444.5,532.8 1445.6,532.8 1446.6,535.1 C1447.0,535.9 1447.3,539.9 1447.7,544.4 C1448.1,549.3 1448.5,561.8 1448.9,563.8 C1449.7,567.7 1450.4,565.8 1451.2,568.5 C1451.7,570.4 1452.3,574.0 1452.8,585.6 L1453.6,612.0 C1454.4,628.5 1455.1,634.3 1455.9,635.2 C1457.2,636.8 1458.5,636.8 1459.8,636.8 C1460.8,636.8 1461.9,636.8 1462.9,632.1 L1463.7,610.4 C1464.2,600.0 1464.7,593.3 1465.2,588.7 C1466.0,581.6 1466.7,579.3 1467.5,579.3 C1468.3,579.3 1469.2,579.3 1470.0,580.0 C1470.5,580.4 1470.9,585.0 1471.4,590.2 C1472.1,597.6 1472.7,608.6 1473.4,620.3 C1474.1,632.0 1474.7,644.4 1475.4,660.4 C1476.1,676.4 1476.7,703.5 1477.4,716.5 C1478.4,736.7 1479.5,743.2 1480.5,750.6 C1482.5,764.9 1484.5,765.2 1486.5,770.6 C1487.5,773.3 1488.5,776.7 1489.5,776.7 C1490.8,776.7 1492.2,776.7 1493.5,760.6 C1494.2,752.5 1494.8,728.5 1495.5,710.5 C1496.2,692.5 1496.8,668.1 1497.5,652.4 C1498.2,636.7 1498.8,624.8 1499.5,616.3 C1500.5,603.6 1501.5,594.2 1502.5,594.2 C1503.5,594.2 1504.5,595.9 1505.5,620.3 C1506.2,636.6 1506.8,681.8 1507.5,700.5 C1508.8,737.9 1510.2,764.6 1511.5,764.6 C1512.5,764.6 1513.5,745.9 1514.5,720.5 C1515.2,703.6 1515.8,666.8 1516.5,648.4 C1517.2,629.1 1517.9,609.5 1518.6,608.3 C1520.9,604.3 1523.3,605.2 1525.6,604.2 C1526.6,603.8 1527.6,591.2 1528.6,591.2 C1530.6,591.2 1532.6,608.3 1534.6,608.3 C1536.3,608.3 1537.9,588.2 1539.6,588.2 C1541.5,588.2 1543.3,595.2 1545.2,595.2 C1546.6,595.2 1547.9,568.3 1549.3,568.3 C1550.7,568.3 1552.1,574.2 1553.5,578.7 C1554.5,582.0 1555.6,591.1 1556.6,591.1 C1558.0,591.1 1559.3,590.9 1560.7,582.8 C1561.4,578.6 1562.1,566.4 1562.8,562.1 C1564.2,553.6 1565.5,551.7 1566.9,551.7 C1568.3,551.7 1569.6,551.7 1571.0,562.1 C1571.4,564.9 1571.7,584.1 1572.1,595.2 C1572.8,616.4 1573.5,641.5 1574.2,659.4 C1575.2,685.9 1576.3,709.3 1577.3,723.6 C1578.3,737.9 1579.4,745.3 1580.4,745.3 C1581.4,745.3 1582.5,745.3 1583.5,727.7 C1583.8,722.0 1584.2,692.9 1584.5,686.3 C1585.5,665.9 1586.6,666.1 1587.6,665.6 C1589.0,664.9 1590.3,665.5 1591.7,661.5 C1592.1,660.4 1592.4,633.2 1592.8,622.1 C1593.1,612.0 1593.5,600.2 1593.8,597.3 C1595.2,585.1 1596.6,586.8 1598.0,584.9 C1599.7,582.6 1601.4,577.6 1603.1,577.6 C1604.1,577.6 1605.2,583.3 1606.2,586.9 C1607.2,590.5 1608.3,599.4 1609.3,599.4 C1610.4,599.4 1611.4,593.9 1612.5,586.9 C1613.2,582.5 1613.8,572.5 1614.5,568.3 C1615.9,559.6 1617.3,554.9 1618.7,554.9 C1620.1,554.9 1621.4,561.8 1622.8,562.1 C1624.9,562.5 1626.9,562.1 1629.0,566.2 C1629.3,566.9 1629.7,577.9 1630.0,591.1 C1630.4,605.7 1630.7,642.7 1631.1,651.1 C1632.1,674.9 1633.2,674.9 1634.2,674.9 C1635.6,674.9 1636.9,674.9 1638.3,653.2 C1638.7,647.4 1639.0,629.4 1639.4,620.1 C1640.1,603.2 1640.7,588.1 1641.4,578.7 C1642.4,564.2 1643.5,560.5 1644.5,555.9 C1645.9,549.7 1647.3,549.7 1648.7,549.7 C1650.1,549.7 1651.4,549.7 1652.8,558.0 C1653.1,560.0 1653.5,589.7 1653.8,599.4 C1654.5,619.8 1655.2,633.5 1655.9,634.6 C1658.0,637.8 1660.0,636.2 1662.1,638.7 C1662.8,639.5 1663.5,656.9 1664.2,665.6 C1665.2,678.4 1666.3,689.8 1667.3,702.9 C1668.3,716.0 1669.4,729.8 1670.4,744.3 C1671.1,754.1 1671.8,767.3 1672.5,775.3 C1673.5,787.1 1674.6,800.1 1675.6,800.1 C1676.3,800.1 1677.0,771.9 1677.7,756.7 C1678.4,742.2 1679.0,720.5 1679.7,711.1 C1680.7,696.6 1681.8,700.4 1682.8,694.6 C1683.8,688.7 1684.9,692.7 1685.9,676.0 C1686.3,670.1 1686.6,653.3 1687.0,647.0 C1688.0,629.2 1689.1,630.0 1690.1,622.1 C1691.1,614.2 1692.2,599.4 1693.2,599.4 C1694.2,599.4 1695.3,599.4 1696.3,599.4 C1697.3,599.4 1698.4,621.4 1699.4,630.4 C1700.4,639.4 1701.5,653.2 1702.5,653.2 C1704.2,653.2 1706.0,653.2 1707.7,647.0 C1708.4,644.6 1709.0,630.7 1709.7,624.2 C1710.7,614.2 1711.8,599.4 1712.8,599.4 C1714.5,599.4 1716.3,599.4 1718.0,599.4 C1719.0,599.4 1720.1,594.2 1721.1,589.0 C1722.1,583.8 1723.2,573.1 1724.2,568.3 C1725.2,563.5 1726.3,561.8 1727.3,560.0 C1729.7,555.7 1732.2,554.8 1734.6,553.8 C1737.0,552.8 1739.4,552.8 1741.8,552.8 C1743.5,552.8 1745.3,557.9 1747.0,560.0 C1748.0,561.2 1749.1,563.1 1750.1,563.1 C1751.1,563.1 1752.2,558.8 1753.2,558.0 C1755.3,556.4 1757.3,556.8 1759.4,556.3" fill="none" stroke="#ec1f26" stroke-opacity="0.33" stroke-width="6.5" stroke-linejoin="round" stroke-linecap="round"/>
<path d="M208.2,505.4 C268.1,505.4 327.9,505.4 387.8,505.4 C388.3,505.4 388.7,503.2 389.2,503.2 C425.5,503.2 461.7,503.2 498.0,503.2 C498.7,503.2 499.3,505.4 500.0,505.4 C527.0,505.4 554.0,505.4 581.0,505.4 C590.1,505.4 599.2,506.0 608.3,506.7 C612.8,507.0 617.4,507.0 621.9,508.1 C625.5,509.0 629.2,508.2 632.8,512.2 C636.4,516.2 640.1,532.6 643.7,532.6 C649.1,532.6 654.6,520.8 660.0,520.8 C661.6,520.8 663.3,523.6 664.9,527.4 C666.5,531.2 668.2,541.9 669.8,543.7 C672.0,546.1 674.1,544.8 676.3,547.0 C677.9,548.7 679.6,554.4 681.2,561.7 C682.0,565.4 682.9,572.5 683.7,576.4 C684.5,580.1 685.3,584.5 686.1,584.5 C687.2,584.5 688.3,584.5 689.4,581.3 C690.2,579.0 691.0,566.0 691.8,561.7 C692.9,555.8 694.0,553.5 695.1,553.5 C696.2,553.5 697.3,553.5 698.4,554.3 C699.8,555.3 701.1,562.6 702.5,564.9 C703.8,567.2 705.2,568.2 706.5,568.2 C707.3,568.2 708.2,563.9 709.0,561.7 C711.2,555.9 713.3,547.5 715.5,543.7 C717.4,540.4 719.3,539.6 721.2,539.6 C722.3,539.6 723.4,539.6 724.5,541.2 C725.9,543.2 727.2,550.3 728.6,552.7 C729.7,554.6 730.8,555.1 731.9,555.1 C733.0,555.1 734.0,546.4 735.1,540.4 C735.7,537.2 736.2,531.1 736.8,529.0 C738.1,524.1 739.5,524.1 740.8,524.1 C742.7,524.1 744.7,524.1 746.6,524.1 C749.3,524.1 752.0,518.3 754.7,516.7 C757.4,515.1 760.2,515.1 762.9,514.3 C765.6,513.5 768.4,511.8 771.1,511.8 C773.3,511.8 775.4,514.3 777.6,514.3 C782.0,514.3 786.3,514.3 790.7,513.5 C791.2,513.4 791.8,511.8 792.3,511.8 C797.2,511.8 802.1,511.8 807.0,511.8 C807.5,511.8 808.1,509.4 808.6,509.4 C820.6,509.4 832.6,509.4 844.6,509.4 C845.1,509.4 845.7,506.9 846.2,506.9 C846.8,506.9 847.4,509.4 848.0,509.4 C853.4,509.4 858.8,509.4 864.2,509.4 C865.0,509.4 865.8,506.9 866.6,506.9 C868.0,506.9 869.3,509.2 870.7,509.4 C877.2,510.2 883.8,510.2 890.3,510.2 C890.8,510.2 891.4,507.8 891.9,507.8 C904.4,507.8 917.0,507.8 929.5,507.8 C930.3,507.8 931.1,510.2 931.9,510.2 C938.7,510.2 945.5,510.2 952.3,510.2 C953.4,510.2 954.5,508.3 955.6,507.8 C957.7,506.8 959.7,506.3 961.8,506.3 C963.7,506.3 965.7,510.2 967.6,510.2 C980.0,510.2 992.5,510.2 1004.9,510.2 C1005.5,510.2 1006.2,507.2 1006.8,507.2 C1009.4,507.2 1012.1,507.2 1014.7,507.2 C1015.3,507.2 1016.0,505.7 1016.6,505.7 C1019.2,505.7 1021.9,505.7 1024.5,505.7 C1025.1,505.7 1025.8,504.6 1026.4,504.3 C1029.0,503.1 1031.7,502.9 1034.3,502.9 C1036.2,502.9 1038.2,504.3 1040.1,504.3 C1042.1,504.3 1044.0,501.3 1046.0,500.4 C1049.9,498.6 1053.9,497.4 1057.8,497.4 C1059.8,497.4 1061.7,499.9 1063.7,501.4 C1066.3,503.4 1068.9,508.2 1071.5,508.2 C1083.3,508.2 1095.0,508.2 1106.8,508.2 C1110.7,508.2 1114.6,500.4 1118.5,500.4 C1120.5,500.4 1122.4,500.5 1124.4,501.4 C1127.0,502.6 1129.6,507.2 1132.2,507.2 C1133.8,507.2 1135.5,504.9 1137.1,504.9 C1142.0,504.9 1146.9,504.9 1151.8,505.3 C1153.1,505.4 1154.5,507.9 1155.8,508.2 C1161.0,509.5 1166.2,508.6 1171.4,510.2 C1173.7,510.9 1176.0,516.6 1178.3,516.6 C1183.2,516.6 1188.1,516.6 1193.0,516.6 C1195.0,516.6 1196.9,512.5 1198.9,512.1 C1202.8,511.3 1206.7,511.5 1210.6,511.2 C1211.9,511.1 1213.2,510.2 1214.5,510.2 C1220.4,510.2 1226.3,510.2 1232.2,512.1 C1233.2,512.4 1234.1,514.7 1235.1,514.7 C1240.0,514.7 1244.9,514.7 1249.8,514.7 C1251.8,514.7 1253.7,511.1 1255.7,510.2 C1259.6,508.4 1263.6,508.2 1267.5,508.2 C1271.4,508.2 1275.3,509.8 1279.2,510.8 C1283.8,512.0 1288.3,513.6 1292.9,515.1 C1295.4,515.9 1297.9,515.7 1300.4,517.7 C1301.6,518.7 1302.9,520.7 1304.1,522.2 C1305.0,523.3 1305.9,522.3 1306.8,526.7 C1307.1,528.2 1307.4,532.0 1307.7,535.8 C1308.3,543.4 1308.9,550.8 1309.5,563.0 C1310.1,575.2 1310.7,598.6 1311.3,609.2 C1312.2,625.1 1313.1,635.4 1314.0,635.4 C1315.1,635.4 1316.1,635.4 1317.2,630.0 C1317.5,628.5 1317.8,615.8 1318.1,598.3 L1318.6,557.5 C1319.2,545.8 1319.8,545.8 1320.4,545.8 C1321.0,545.8 1321.6,570.2 1322.2,570.2 C1322.6,570.2 1323.1,548.0 1323.5,548.0 C1324.0,548.0 1324.5,575.0 1325.0,575.0 C1325.4,575.0 1325.9,548.0 1326.3,548.0 C1326.7,548.0 1327.2,579.3 1327.6,579.3 C1328.2,579.3 1328.8,541.2 1329.4,541.2 C1330.0,541.2 1330.6,567.5 1331.2,567.5 C1331.5,567.5 1331.8,531.9 1332.1,529.5 C1332.7,524.5 1333.4,524.9 1334.0,524.5 C1334.9,523.9 1335.8,522.3 1336.7,522.2 C1338.5,522.0 1340.2,522.0 1342.0,522.0 C1344.5,522.0 1346.9,526.4 1349.4,529.0 C1350.8,530.4 1352.1,529.1 1353.5,545.5 C1353.9,549.9 1354.2,576.4 1354.6,603.5 C1354.9,628.2 1355.3,683.3 1355.6,698.8 C1356.6,746.8 1357.7,735.9 1358.7,748.4 C1359.7,760.9 1360.8,788.8 1361.8,788.8 C1362.8,788.8 1363.9,779.4 1364.9,756.7 C1365.6,741.3 1366.3,716.1 1367.0,686.3 C1367.3,672.1 1367.7,641.8 1368.0,634.6 C1369.0,612.2 1370.1,616.1 1371.1,611.8 C1372.5,606.0 1373.9,595.2 1375.3,595.2 C1376.7,595.2 1378.0,595.2 1379.4,597.3 C1381.1,600.0 1382.9,618.0 1384.6,618.0 C1385.6,618.0 1386.7,618.0 1387.7,603.5 C1388.0,598.8 1388.4,583.7 1388.7,578.7 C1389.7,563.1 1390.8,562.1 1391.8,562.1 C1393.3,562.1 1394.8,566.2 1396.3,566.2 C1397.5,566.2 1398.8,561.5 1400.0,561.5 C1400.8,561.5 1401.7,566.0 1402.5,566.0 C1403.2,566.0 1404.0,565.6 1404.7,563.0 C1405.2,561.2 1405.7,556.8 1406.2,554.5 C1407.0,550.9 1407.7,547.9 1408.5,546.0 C1409.5,543.4 1410.6,542.1 1411.6,542.1 C1412.3,542.1 1412.9,550.5 1413.6,554.5 C1414.2,558.3 1414.9,565.4 1415.5,565.4 C1416.0,565.4 1416.5,554.8 1417.0,552.0 C1417.5,549.0 1418.1,549.6 1418.6,548.3 C1419.1,547.0 1419.7,545.9 1420.2,544.4 C1421.2,541.5 1422.3,534.3 1423.3,534.3 C1424.1,534.3 1424.8,534.3 1425.6,540.5 C1425.9,542.7 1426.1,552.5 1426.4,557.6 C1426.9,567.8 1427.5,584.8 1428.0,584.8 C1428.9,584.8 1429.8,584.8 1430.7,584.8 C1431.1,584.8 1431.4,576.5 1431.8,571.6 L1432.6,559.9 C1433.6,559.2 1434.7,559.2 1435.7,559.2 C1436.6,559.2 1437.5,571.6 1438.4,571.6 L1439.2,559.2 C1439.6,553.0 1440.0,543.5 1440.4,540.5 C1441.4,532.8 1442.5,532.8 1443.5,532.8 C1444.5,532.8 1445.6,532.8 1446.6,535.1 C1447.0,535.9 1447.3,539.9 1447.7,544.4 C1448.1,549.3 1448.5,561.8 1448.9,563.8 C1449.7,567.7 1450.4,565.8 1451.2,568.5 C1451.7,570.4 1452.3,574.0 1452.8,585.6 L1453.6,612.0 C1454.4,628.5 1455.1,634.3 1455.9,635.2 C1457.2,636.8 1458.5,636.8 1459.8,636.8 C1460.8,636.8 1461.9,636.8 1462.9,632.1 L1463.7,610.4 C1464.2,600.0 1464.7,593.3 1465.2,588.7 C1466.0,581.6 1466.7,579.3 1467.5,579.3 C1468.3,579.3 1469.2,579.3 1470.0,580.0 C1470.5,580.4 1470.9,585.0 1471.4,590.2 C1472.1,597.6 1472.7,608.6 1473.4,620.3 C1474.1,632.0 1474.7,644.4 1475.4,660.4 C1476.1,676.4 1476.7,703.5 1477.4,716.5 C1478.4,736.7 1479.5,743.2 1480.5,750.6 C1482.5,764.9 1484.5,765.2 1486.5,770.6 C1487.5,773.3 1488.5,776.7 1489.5,776.7 C1490.8,776.7 1492.2,776.7 1493.5,760.6 C1494.2,752.5 1494.8,728.5 1495.5,710.5 C1496.2,692.5 1496.8,668.1 1497.5,652.4 C1498.2,636.7 1498.8,624.8 1499.5,616.3 C1500.5,603.6 1501.5,594.2 1502.5,594.2 C1503.5,594.2 1504.5,595.9 1505.5,620.3 C1506.2,636.6 1506.8,681.8 1507.5,700.5 C1508.8,737.9 1510.2,764.6 1511.5,764.6 C1512.5,764.6 1513.5,745.9 1514.5,720.5 C1515.2,703.6 1515.8,666.8 1516.5,648.4 C1517.2,629.1 1517.9,609.5 1518.6,608.3 C1520.9,604.3 1523.3,605.2 1525.6,604.2 C1526.6,603.8 1527.6,591.2 1528.6,591.2 C1530.6,591.2 1532.6,608.3 1534.6,608.3 C1536.3,608.3 1537.9,588.2 1539.6,588.2 C1541.5,588.2 1543.3,595.2 1545.2,595.2 C1546.6,595.2 1547.9,568.3 1549.3,568.3 C1550.7,568.3 1552.1,574.2 1553.5,578.7 C1554.5,582.0 1555.6,591.1 1556.6,591.1 C1558.0,591.1 1559.3,590.9 1560.7,582.8 C1561.4,578.6 1562.1,566.4 1562.8,562.1 C1564.2,553.6 1565.5,551.7 1566.9,551.7 C1568.3,551.7 1569.6,551.7 1571.0,562.1 C1571.4,564.9 1571.7,584.1 1572.1,595.2 C1572.8,616.4 1573.5,641.5 1574.2,659.4 C1575.2,685.9 1576.3,709.3 1577.3,723.6 C1578.3,737.9 1579.4,745.3 1580.4,745.3 C1581.4,745.3 1582.5,745.3 1583.5,727.7 C1583.8,722.0 1584.2,692.9 1584.5,686.3 C1585.5,665.9 1586.6,666.1 1587.6,665.6 C1589.0,664.9 1590.3,665.5 1591.7,661.5 C1592.1,660.4 1592.4,633.2 1592.8,622.1 C1593.1,612.0 1593.5,600.2 1593.8,597.3 C1595.2,585.1 1596.6,586.8 1598.0,584.9 C1599.7,582.6 1601.4,577.6 1603.1,577.6 C1604.1,577.6 1605.2,583.3 1606.2,586.9 C1607.2,590.5 1608.3,599.4 1609.3,599.4 C1610.4,599.4 1611.4,593.9 1612.5,586.9 C1613.2,582.5 1613.8,572.5 1614.5,568.3 C1615.9,559.6 1617.3,554.9 1618.7,554.9 C1620.1,554.9 1621.4,561.8 1622.8,562.1 C1624.9,562.5 1626.9,562.1 1629.0,566.2 C1629.3,566.9 1629.7,577.9 1630.0,591.1 C1630.4,605.7 1630.7,642.7 1631.1,651.1 C1632.1,674.9 1633.2,674.9 1634.2,674.9 C1635.6,674.9 1636.9,674.9 1638.3,653.2 C1638.7,647.4 1639.0,629.4 1639.4,620.1 C1640.1,603.2 1640.7,588.1 1641.4,578.7 C1642.4,564.2 1643.5,560.5 1644.5,555.9 C1645.9,549.7 1647.3,549.7 1648.7,549.7 C1650.1,549.7 1651.4,549.7 1652.8,558.0 C1653.1,560.0 1653.5,589.7 1653.8,599.4 C1654.5,619.8 1655.2,633.5 1655.9,634.6 C1658.0,637.8 1660.0,636.2 1662.1,638.7 C1662.8,639.5 1663.5,656.9 1664.2,665.6 C1665.2,678.4 1666.3,689.8 1667.3,702.9 C1668.3,716.0 1669.4,729.8 1670.4,744.3 C1671.1,754.1 1671.8,767.3 1672.5,775.3 C1673.5,787.1 1674.6,800.1 1675.6,800.1 C1676.3,800.1 1677.0,771.9 1677.7,756.7 C1678.4,742.2 1679.0,720.5 1679.7,711.1 C1680.7,696.6 1681.8,700.4 1682.8,694.6 C1683.8,688.7 1684.9,692.7 1685.9,676.0 C1686.3,670.1 1686.6,653.3 1687.0,647.0 C1688.0,629.2 1689.1,630.0 1690.1,622.1 C1691.1,614.2 1692.2,599.4 1693.2,599.4 C1694.2,599.4 1695.3,599.4 1696.3,599.4 C1697.3,599.4 1698.4,621.4 1699.4,630.4 C1700.4,639.4 1701.5,653.2 1702.5,653.2 C1704.2,653.2 1706.0,653.2 1707.7,647.0 C1708.4,644.6 1709.0,630.7 1709.7,624.2 C1710.7,614.2 1711.8,599.4 1712.8,599.4 C1714.5,599.4 1716.3,599.4 1718.0,599.4 C1719.0,599.4 1720.1,594.2 1721.1,589.0 C1722.1,583.8 1723.2,573.1 1724.2,568.3 C1725.2,563.5 1726.3,561.8 1727.3,560.0 C1729.7,555.7 1732.2,554.8 1734.6,553.8 C1737.0,552.8 1739.4,552.8 1741.8,552.8 C1743.5,552.8 1745.3,557.9 1747.0,560.0 C1748.0,561.2 1749.1,563.1 1750.1,563.1 C1751.1,563.1 1752.2,558.8 1753.2,558.0 C1755.3,556.4 1757.3,556.8 1759.4,556.3" transform="translate(-1.00,0)" fill="none" stroke="#ec1f26" stroke-width="2.4" stroke-linejoin="round" stroke-linecap="round"/>
<path d="M208.2,505.4 C268.1,505.4 327.9,505.4 387.8,505.4 C388.3,505.4 388.7,503.2 389.2,503.2 C425.5,503.2 461.7,503.2 498.0,503.2 C498.7,503.2 499.3,505.4 500.0,505.4 C527.0,505.4 554.0,505.4 581.0,505.4 C590.1,505.4 599.2,506.0 608.3,506.7 C612.8,507.0 617.4,507.0 621.9,508.1 C625.5,509.0 629.2,508.2 632.8,512.2 C636.4,516.2 640.1,532.6 643.7,532.6 C649.1,532.6 654.6,520.8 660.0,520.8 C661.6,520.8 663.3,523.6 664.9,527.4 C666.5,531.2 668.2,541.9 669.8,543.7 C672.0,546.1 674.1,544.8 676.3,547.0 C677.9,548.7 679.6,554.4 681.2,561.7 C682.0,565.4 682.9,572.5 683.7,576.4 C684.5,580.1 685.3,584.5 686.1,584.5 C687.2,584.5 688.3,584.5 689.4,581.3 C690.2,579.0 691.0,566.0 691.8,561.7 C692.9,555.8 694.0,553.5 695.1,553.5 C696.2,553.5 697.3,553.5 698.4,554.3 C699.8,555.3 701.1,562.6 702.5,564.9 C703.8,567.2 705.2,568.2 706.5,568.2 C707.3,568.2 708.2,563.9 709.0,561.7 C711.2,555.9 713.3,547.5 715.5,543.7 C717.4,540.4 719.3,539.6 721.2,539.6 C722.3,539.6 723.4,539.6 724.5,541.2 C725.9,543.2 727.2,550.3 728.6,552.7 C729.7,554.6 730.8,555.1 731.9,555.1 C733.0,555.1 734.0,546.4 735.1,540.4 C735.7,537.2 736.2,531.1 736.8,529.0 C738.1,524.1 739.5,524.1 740.8,524.1 C742.7,524.1 744.7,524.1 746.6,524.1 C749.3,524.1 752.0,518.3 754.7,516.7 C757.4,515.1 760.2,515.1 762.9,514.3 C765.6,513.5 768.4,511.8 771.1,511.8 C773.3,511.8 775.4,514.3 777.6,514.3 C782.0,514.3 786.3,514.3 790.7,513.5 C791.2,513.4 791.8,511.8 792.3,511.8 C797.2,511.8 802.1,511.8 807.0,511.8 C807.5,511.8 808.1,509.4 808.6,509.4 C820.6,509.4 832.6,509.4 844.6,509.4 C845.1,509.4 845.7,506.9 846.2,506.9 C846.8,506.9 847.4,509.4 848.0,509.4 C853.4,509.4 858.8,509.4 864.2,509.4 C865.0,509.4 865.8,506.9 866.6,506.9 C868.0,506.9 869.3,509.2 870.7,509.4 C877.2,510.2 883.8,510.2 890.3,510.2 C890.8,510.2 891.4,507.8 891.9,507.8 C904.4,507.8 917.0,507.8 929.5,507.8 C930.3,507.8 931.1,510.2 931.9,510.2 C938.7,510.2 945.5,510.2 952.3,510.2 C953.4,510.2 954.5,508.3 955.6,507.8 C957.7,506.8 959.7,506.3 961.8,506.3 C963.7,506.3 965.7,510.2 967.6,510.2 C980.0,510.2 992.5,510.2 1004.9,510.2 C1005.5,510.2 1006.2,507.2 1006.8,507.2 C1009.4,507.2 1012.1,507.2 1014.7,507.2 C1015.3,507.2 1016.0,505.7 1016.6,505.7 C1019.2,505.7 1021.9,505.7 1024.5,505.7 C1025.1,505.7 1025.8,504.6 1026.4,504.3 C1029.0,503.1 1031.7,502.9 1034.3,502.9 C1036.2,502.9 1038.2,504.3 1040.1,504.3 C1042.1,504.3 1044.0,501.3 1046.0,500.4 C1049.9,498.6 1053.9,497.4 1057.8,497.4 C1059.8,497.4 1061.7,499.9 1063.7,501.4 C1066.3,503.4 1068.9,508.2 1071.5,508.2 C1083.3,508.2 1095.0,508.2 1106.8,508.2 C1110.7,508.2 1114.6,500.4 1118.5,500.4 C1120.5,500.4 1122.4,500.5 1124.4,501.4 C1127.0,502.6 1129.6,507.2 1132.2,507.2 C1133.8,507.2 1135.5,504.9 1137.1,504.9 C1142.0,504.9 1146.9,504.9 1151.8,505.3 C1153.1,505.4 1154.5,507.9 1155.8,508.2 C1161.0,509.5 1166.2,508.6 1171.4,510.2 C1173.7,510.9 1176.0,516.6 1178.3,516.6 C1183.2,516.6 1188.1,516.6 1193.0,516.6 C1195.0,516.6 1196.9,512.5 1198.9,512.1 C1202.8,511.3 1206.7,511.5 1210.6,511.2 C1211.9,511.1 1213.2,510.2 1214.5,510.2 C1220.4,510.2 1226.3,510.2 1232.2,512.1 C1233.2,512.4 1234.1,514.7 1235.1,514.7 C1240.0,514.7 1244.9,514.7 1249.8,514.7 C1251.8,514.7 1253.7,511.1 1255.7,510.2 C1259.6,508.4 1263.6,508.2 1267.5,508.2 C1271.4,508.2 1275.3,509.8 1279.2,510.8 C1283.8,512.0 1288.3,513.6 1292.9,515.1 C1295.4,515.9 1297.9,515.7 1300.4,517.7 C1301.6,518.7 1302.9,520.7 1304.1,522.2 C1305.0,523.3 1305.9,522.3 1306.8,526.7 C1307.1,528.2 1307.4,532.0 1307.7,535.8 C1308.3,543.4 1308.9,550.8 1309.5,563.0 C1310.1,575.2 1310.7,598.6 1311.3,609.2 C1312.2,625.1 1313.1,635.4 1314.0,635.4 C1315.1,635.4 1316.1,635.4 1317.2,630.0 C1317.5,628.5 1317.8,615.8 1318.1,598.3 L1318.6,557.5 C1319.2,545.8 1319.8,545.8 1320.4,545.8 C1321.0,545.8 1321.6,570.2 1322.2,570.2 C1322.6,570.2 1323.1,548.0 1323.5,548.0 C1324.0,548.0 1324.5,575.0 1325.0,575.0 C1325.4,575.0 1325.9,548.0 1326.3,548.0 C1326.7,548.0 1327.2,579.3 1327.6,579.3 C1328.2,579.3 1328.8,541.2 1329.4,541.2 C1330.0,541.2 1330.6,567.5 1331.2,567.5 C1331.5,567.5 1331.8,531.9 1332.1,529.5 C1332.7,524.5 1333.4,524.9 1334.0,524.5 C1334.9,523.9 1335.8,522.3 1336.7,522.2 C1338.5,522.0 1340.2,522.0 1342.0,522.0 C1344.5,522.0 1346.9,526.4 1349.4,529.0 C1350.8,530.4 1352.1,529.1 1353.5,545.5 C1353.9,549.9 1354.2,576.4 1354.6,603.5 C1354.9,628.2 1355.3,683.3 1355.6,698.8 C1356.6,746.8 1357.7,735.9 1358.7,748.4 C1359.7,760.9 1360.8,788.8 1361.8,788.8 C1362.8,788.8 1363.9,779.4 1364.9,756.7 C1365.6,741.3 1366.3,716.1 1367.0,686.3 C1367.3,672.1 1367.7,641.8 1368.0,634.6 C1369.0,612.2 1370.1,616.1 1371.1,611.8 C1372.5,606.0 1373.9,595.2 1375.3,595.2 C1376.7,595.2 1378.0,595.2 1379.4,597.3 C1381.1,600.0 1382.9,618.0 1384.6,618.0 C1385.6,618.0 1386.7,618.0 1387.7,603.5 C1388.0,598.8 1388.4,583.7 1388.7,578.7 C1389.7,563.1 1390.8,562.1 1391.8,562.1 C1393.3,562.1 1394.8,566.2 1396.3,566.2 C1397.5,566.2 1398.8,561.5 1400.0,561.5 C1400.8,561.5 1401.7,566.0 1402.5,566.0 C1403.2,566.0 1404.0,565.6 1404.7,563.0 C1405.2,561.2 1405.7,556.8 1406.2,554.5 C1407.0,550.9 1407.7,547.9 1408.5,546.0 C1409.5,543.4 1410.6,542.1 1411.6,542.1 C1412.3,542.1 1412.9,550.5 1413.6,554.5 C1414.2,558.3 1414.9,565.4 1415.5,565.4 C1416.0,565.4 1416.5,554.8 1417.0,552.0 C1417.5,549.0 1418.1,549.6 1418.6,548.3 C1419.1,547.0 1419.7,545.9 1420.2,544.4 C1421.2,541.5 1422.3,534.3 1423.3,534.3 C1424.1,534.3 1424.8,534.3 1425.6,540.5 C1425.9,542.7 1426.1,552.5 1426.4,557.6 C1426.9,567.8 1427.5,584.8 1428.0,584.8 C1428.9,584.8 1429.8,584.8 1430.7,584.8 C1431.1,584.8 1431.4,576.5 1431.8,571.6 L1432.6,559.9 C1433.6,559.2 1434.7,559.2 1435.7,559.2 C1436.6,559.2 1437.5,571.6 1438.4,571.6 L1439.2,559.2 C1439.6,553.0 1440.0,543.5 1440.4,540.5 C1441.4,532.8 1442.5,532.8 1443.5,532.8 C1444.5,532.8 1445.6,532.8 1446.6,535.1 C1447.0,535.9 1447.3,539.9 1447.7,544.4 C1448.1,549.3 1448.5,561.8 1448.9,563.8 C1449.7,567.7 1450.4,565.8 1451.2,568.5 C1451.7,570.4 1452.3,574.0 1452.8,585.6 L1453.6,612.0 C1454.4,628.5 1455.1,634.3 1455.9,635.2 C1457.2,636.8 1458.5,636.8 1459.8,636.8 C1460.8,636.8 1461.9,636.8 1462.9,632.1 L1463.7,610.4 C1464.2,600.0 1464.7,593.3 1465.2,588.7 C1466.0,581.6 1466.7,579.3 1467.5,579.3 C1468.3,579.3 1469.2,579.3 1470.0,580.0 C1470.5,580.4 1470.9,585.0 1471.4,590.2 C1472.1,597.6 1472.7,608.6 1473.4,620.3 C1474.1,632.0 1474.7,644.4 1475.4,660.4 C1476.1,676.4 1476.7,703.5 1477.4,716.5 C1478.4,736.7 1479.5,743.2 1480.5,750.6 C1482.5,764.9 1484.5,765.2 1486.5,770.6 C1487.5,773.3 1488.5,776.7 1489.5,776.7 C1490.8,776.7 1492.2,776.7 1493.5,760.6 C1494.2,752.5 1494.8,728.5 1495.5,710.5 C1496.2,692.5 1496.8,668.1 1497.5,652.4 C1498.2,636.7 1498.8,624.8 1499.5,616.3 C1500.5,603.6 1501.5,594.2 1502.5,594.2 C1503.5,594.2 1504.5,595.9 1505.5,620.3 C1506.2,636.6 1506.8,681.8 1507.5,700.5 C1508.8,737.9 1510.2,764.6 1511.5,764.6 C1512.5,764.6 1513.5,745.9 1514.5,720.5 C1515.2,703.6 1515.8,666.8 1516.5,648.4 C1517.2,629.1 1517.9,609.5 1518.6,608.3 C1520.9,604.3 1523.3,605.2 1525.6,604.2 C1526.6,603.8 1527.6,591.2 1528.6,591.2 C1530.6,591.2 1532.6,608.3 1534.6,608.3 C1536.3,608.3 1537.9,588.2 1539.6,588.2 C1541.5,588.2 1543.3,595.2 1545.2,595.2 C1546.6,595.2 1547.9,568.3 1549.3,568.3 C1550.7,568.3 1552.1,574.2 1553.5,578.7 C1554.5,582.0 1555.6,591.1 1556.6,591.1 C1558.0,591.1 1559.3,590.9 1560.7,582.8 C1561.4,578.6 1562.1,566.4 1562.8,562.1 C1564.2,553.6 1565.5,551.7 1566.9,551.7 C1568.3,551.7 1569.6,551.7 1571.0,562.1 C1571.4,564.9 1571.7,584.1 1572.1,595.2 C1572.8,616.4 1573.5,641.5 1574.2,659.4 C1575.2,685.9 1576.3,709.3 1577.3,723.6 C1578.3,737.9 1579.4,745.3 1580.4,745.3 C1581.4,745.3 1582.5,745.3 1583.5,727.7 C1583.8,722.0 1584.2,692.9 1584.5,686.3 C1585.5,665.9 1586.6,666.1 1587.6,665.6 C1589.0,664.9 1590.3,665.5 1591.7,661.5 C1592.1,660.4 1592.4,633.2 1592.8,622.1 C1593.1,612.0 1593.5,600.2 1593.8,597.3 C1595.2,585.1 1596.6,586.8 1598.0,584.9 C1599.7,582.6 1601.4,577.6 1603.1,577.6 C1604.1,577.6 1605.2,583.3 1606.2,586.9 C1607.2,590.5 1608.3,599.4 1609.3,599.4 C1610.4,599.4 1611.4,593.9 1612.5,586.9 C1613.2,582.5 1613.8,572.5 1614.5,568.3 C1615.9,559.6 1617.3,554.9 1618.7,554.9 C1620.1,554.9 1621.4,561.8 1622.8,562.1 C1624.9,562.5 1626.9,562.1 1629.0,566.2 C1629.3,566.9 1629.7,577.9 1630.0,591.1 C1630.4,605.7 1630.7,642.7 1631.1,651.1 C1632.1,674.9 1633.2,674.9 1634.2,674.9 C1635.6,674.9 1636.9,674.9 1638.3,653.2 C1638.7,647.4 1639.0,629.4 1639.4,620.1 C1640.1,603.2 1640.7,588.1 1641.4,578.7 C1642.4,564.2 1643.5,560.5 1644.5,555.9 C1645.9,549.7 1647.3,549.7 1648.7,549.7 C1650.1,549.7 1651.4,549.7 1652.8,558.0 C1653.1,560.0 1653.5,589.7 1653.8,599.4 C1654.5,619.8 1655.2,633.5 1655.9,634.6 C1658.0,637.8 1660.0,636.2 1662.1,638.7 C1662.8,639.5 1663.5,656.9 1664.2,665.6 C1665.2,678.4 1666.3,689.8 1667.3,702.9 C1668.3,716.0 1669.4,729.8 1670.4,744.3 C1671.1,754.1 1671.8,767.3 1672.5,775.3 C1673.5,787.1 1674.6,800.1 1675.6,800.1 C1676.3,800.1 1677.0,771.9 1677.7,756.7 C1678.4,742.2 1679.0,720.5 1679.7,711.1 C1680.7,696.6 1681.8,700.4 1682.8,694.6 C1683.8,688.7 1684.9,692.7 1685.9,676.0 C1686.3,670.1 1686.6,653.3 1687.0,647.0 C1688.0,629.2 1689.1,630.0 1690.1,622.1 C1691.1,614.2 1692.2,599.4 1693.2,599.4 C1694.2,599.4 1695.3,599.4 1696.3,599.4 C1697.3,599.4 1698.4,621.4 1699.4,630.4 C1700.4,639.4 1701.5,653.2 1702.5,653.2 C1704.2,653.2 1706.0,653.2 1707.7,647.0 C1708.4,644.6 1709.0,630.7 1709.7,624.2 C1710.7,614.2 1711.8,599.4 1712.8,599.4 C1714.5,599.4 1716.3,599.4 1718.0,599.4 C1719.0,599.4 1720.1,594.2 1721.1,589.0 C1722.1,583.8 1723.2,573.1 1724.2,568.3 C1725.2,563.5 1726.3,561.8 1727.3,560.0 C1729.7,555.7 1732.2,554.8 1734.6,553.8 C1737.0,552.8 1739.4,552.8 1741.8,552.8 C1743.5,552.8 1745.3,557.9 1747.0,560.0 C1748.0,561.2 1749.1,563.1 1750.1,563.1 C1751.1,563.1 1752.2,558.8 1753.2,558.0 C1755.3,556.4 1757.3,556.8 1759.4,556.3" transform="translate(1.00,0)" fill="none" stroke="#ec1f26" stroke-width="2.4" stroke-linejoin="round" stroke-linecap="round"/>
<path d="M216.0,898.6 C264.8,898.6 313.5,898.6 362.3,898.6 C362.7,898.6 363.1,900.9 363.5,900.9 C368.4,900.9 373.4,900.9 378.3,900.9 C379.8,900.9 381.4,902.6 382.9,903.2 C386.7,904.7 390.5,905.4 394.3,906.6 C400.4,908.5 406.5,909.5 412.6,912.3 C416.4,914.0 420.2,916.4 424.0,919.2 C430.1,923.7 436.2,929.8 442.3,935.2 C449.2,941.2 456.0,947.7 462.9,953.4 C468.2,957.9 473.6,961.6 478.9,966.0 C485.0,971.1 491.1,977.5 497.2,982.0 C500.1,984.2 503.1,986.1 506.0,987.3 C510.7,989.2 515.3,990.3 520.0,990.3 C524.0,990.3 528.0,990.0 532.0,989.2 C536.3,988.3 540.7,987.4 545.0,985.2 C551.9,981.7 558.9,975.8 565.8,970.6 C573.4,964.9 581.1,958.9 588.7,952.3 C594.0,947.7 599.4,940.9 604.7,937.4 C607.5,935.6 610.3,935.2 613.1,934.2 C616.0,933.1 618.9,932.3 621.8,931.0 C624.7,929.7 627.6,926.2 630.5,926.2 C632.7,926.2 634.8,926.2 637.0,926.6 C638.1,926.8 639.2,929.2 640.3,929.2 C641.4,929.2 642.4,924.0 643.5,924.0 C650.0,924.0 656.6,924.0 663.1,924.0 C666.7,924.0 670.4,925.8 674.0,929.9 C675.5,931.6 676.9,935.0 678.4,937.5 C681.3,942.5 684.2,949.6 687.1,952.7 C689.3,955.0 691.4,953.7 693.6,956.0 C695.1,957.6 696.5,960.5 698.0,963.6 C699.4,966.7 700.9,974.5 702.3,974.5 C703.4,974.5 704.5,974.5 705.6,974.5 C706.7,974.5 707.8,966.9 708.9,966.9 C711.4,966.9 714.0,968.0 716.5,968.0 C718.3,968.0 720.1,954.6 721.9,950.6 C724.8,944.1 727.7,942.0 730.6,939.7 C732.8,938.0 735.0,938.8 737.2,937.5 C739.0,936.5 740.8,933.1 742.6,933.1 C744.4,933.1 746.3,933.1 748.1,936.4 C749.2,938.3 750.2,944.6 751.3,948.4 C752.8,953.7 754.2,963.6 755.7,963.6 C757.1,963.6 758.6,963.1 760.0,959.3 C761.8,954.4 763.7,940.5 765.5,935.3 C767.7,929.1 769.8,929.1 772.0,926.6 C774.9,923.2 777.8,920.6 780.7,917.9 C783.6,915.2 786.5,912.0 789.4,910.3 C793.0,908.2 796.7,908.0 800.3,907.0 C803.6,906.1 806.8,904.9 810.1,904.8 C822.1,904.4 834.0,904.4 846.0,904.4 C865.6,904.4 885.2,904.8 904.8,904.8 C905.5,904.8 906.3,903.1 907.0,903.1 C914.6,903.0 922.3,903.1 929.9,902.7 C930.3,902.7 930.6,900.5 931.0,900.5 C942.6,900.5 954.2,900.5 965.8,900.5 C966.5,900.5 967.3,897.9 968.0,897.9 C970.5,897.9 973.1,897.9 975.6,897.9 C976.0,897.9 976.3,900.5 976.7,900.5 C987.1,900.5 997.4,900.5 1007.8,900.5 L1007.8,897.8 C1015.2,897.8 1022.6,897.8 1030.0,897.8 C1030.6,897.8 1031.2,895.9 1031.8,895.9 C1039.2,895.9 1046.6,895.9 1054.0,895.9 C1054.6,895.9 1055.3,894.3 1055.9,894.1 C1059.3,893.1 1062.7,893.1 1066.1,893.1 C1067.0,893.1 1067.9,896.3 1068.8,896.8 C1072.5,898.7 1076.2,898.7 1079.9,898.7 C1085.5,898.7 1091.0,898.7 1096.6,897.8 C1100.3,897.2 1104.0,896.2 1107.7,895.0 C1110.8,894.0 1113.9,891.3 1117.0,891.3 C1121.9,891.3 1126.9,891.3 1131.8,891.3 C1132.4,891.3 1133.0,894.1 1133.6,894.1 C1142.9,894.1 1152.1,894.1 1161.4,894.1 C1163.2,894.1 1165.1,897.6 1166.9,897.8 C1171.8,898.3 1176.8,898.0 1181.7,898.7 C1182.3,898.8 1183.0,900.5 1183.6,900.5 C1195.9,900.5 1208.3,900.5 1220.6,900.5 C1221.2,900.5 1221.9,903.3 1222.5,903.3 C1234.8,903.3 1247.2,903.3 1259.5,903.3 C1262.0,903.3 1264.4,905.7 1266.9,906.1 C1271.2,906.7 1275.5,906.4 1279.8,907.0 C1282.3,907.4 1284.7,908.8 1287.2,909.8 C1290.8,911.3 1294.5,911.0 1298.1,914.4 C1299.3,915.5 1300.6,914.5 1301.8,921.7 C1302.4,925.2 1303.0,945.2 1303.6,945.2 C1304.8,945.2 1306.0,945.2 1307.2,945.2 C1308.1,945.2 1309.0,925.3 1309.9,925.3 C1311.1,925.3 1312.3,925.3 1313.5,925.3 C1314.7,925.3 1316.0,925.3 1317.2,930.7 C1317.8,933.3 1318.4,954.8 1319.0,966.9 C1319.6,979.0 1320.2,996.0 1320.8,1003.1 C1321.7,1013.7 1322.6,1013.4 1323.5,1014.0 C1325.3,1015.2 1327.1,1014.1 1328.9,1021.3 C1329.2,1022.5 1329.5,1041.5 1329.8,1048.4 C1330.4,1063.1 1331.1,1071.1 1331.7,1079.2 C1332.6,1090.7 1333.5,1095.5 1334.4,1104.6 C1335.3,1113.6 1336.2,1127.3 1337.1,1133.5 C1338.3,1141.7 1339.5,1144.4 1340.7,1144.4 C1341.9,1144.4 1343.1,1144.4 1344.3,1139.0 C1344.9,1136.3 1345.5,1116.7 1346.1,1106.4 C1346.7,1095.5 1347.4,1084.9 1348.0,1075.6 C1348.6,1066.8 1349.2,1058.5 1349.8,1052.0 C1350.7,1042.2 1351.6,1037.8 1352.5,1028.5 C1353.1,1022.3 1353.7,1011.9 1354.3,1006.8 C1355.3,998.4 1356.3,1000.6 1357.3,992.4 C1357.7,989.1 1358.1,980.2 1358.5,978.4 C1359.3,974.9 1360.0,974.9 1360.8,974.9 C1361.4,974.9 1361.9,986.7 1362.5,990.0 C1363.1,993.4 1363.7,994.7 1364.3,994.7 C1364.9,994.7 1365.4,985.0 1366.0,985.0 C1366.6,985.0 1367.2,994.7 1367.8,994.7 C1368.4,994.7 1369.0,985.2 1369.6,978.4 C1370.0,974.2 1370.3,966.5 1370.7,963.3 C1371.7,954.9 1372.6,952.8 1373.6,952.8 C1374.8,952.8 1375.9,954.1 1377.1,955.1 C1378.3,956.1 1379.4,958.6 1380.6,958.6 C1382.5,958.6 1384.5,958.6 1386.4,958.6 C1387.6,958.6 1388.7,963.5 1389.9,966.8 C1390.7,969.1 1391.5,970.7 1392.3,974.9 C1393.1,978.9 1393.8,976.6 1394.6,991.2 C1395.0,998.8 1395.4,1019.8 1395.8,1028.5 C1396.6,1045.3 1397.3,1057.6 1398.1,1057.6 C1398.7,1057.6 1399.4,1045.0 1400.0,1045.0 C1400.4,1045.0 1400.8,1056.5 1401.2,1057.0 C1401.7,1057.6 1402.2,1057.6 1402.7,1057.6 L1403.3,1030.8 C1404.3,1023.8 1405.2,1023.8 1406.2,1023.8 C1407.0,1023.8 1407.8,1027.3 1408.6,1033.1 C1409.0,1035.8 1409.3,1042.0 1409.7,1044.8 C1410.5,1051.0 1411.3,1056.0 1412.1,1056.4 C1413.6,1057.1 1415.2,1056.5 1416.7,1059.9 C1417.1,1060.8 1417.5,1084.8 1417.9,1091.4 C1419.0,1110.1 1420.2,1114.6 1421.3,1114.6 C1422.2,1114.6 1423.0,1096.0 1423.9,1096.0 C1424.8,1096.0 1425.8,1097.3 1426.7,1097.3 C1427.6,1097.3 1428.5,1076.1 1429.4,1064.7 C1430.0,1056.7 1430.7,1048.7 1431.3,1039.4 C1431.9,1030.6 1432.5,1017.2 1433.1,1010.4 C1434.0,1000.1 1434.9,998.9 1435.8,992.3 C1436.4,987.9 1437.0,981.6 1437.6,977.8 C1438.8,970.2 1440.0,965.0 1441.2,961.5 C1443.9,953.5 1446.7,955.2 1449.4,950.6 C1451.2,947.6 1453.0,939.8 1454.8,939.8 C1456.6,939.8 1458.4,939.8 1460.2,939.8 C1462.0,939.8 1463.9,943.4 1465.7,943.4 C1467.5,943.4 1469.3,939.8 1471.1,939.8 C1472.3,939.8 1473.5,945.2 1474.7,945.2 C1475.9,945.2 1477.1,934.3 1478.3,934.3 C1479.5,934.3 1480.8,934.3 1482.0,939.8 C1482.6,942.5 1483.2,956.8 1483.8,966.9 C1484.4,977.0 1485.0,1000.4 1485.6,1000.4 C1486.5,1000.4 1487.4,986.4 1488.3,981.4 C1489.2,976.4 1490.1,973.1 1491.0,970.5 C1492.8,965.4 1494.6,967.5 1496.4,961.5 C1497.6,957.5 1498.8,948.2 1500.0,943.4 C1501.2,938.5 1502.5,933.0 1503.7,932.5 C1505.8,931.6 1507.9,931.6 1510.0,931.6 C1512.1,931.6 1514.3,947.0 1516.4,947.0 C1517.9,947.0 1519.4,935.8 1520.9,932.5 C1522.4,929.2 1523.9,927.1 1525.4,927.1 C1527.2,927.1 1529.1,927.1 1530.9,927.1 C1531.8,927.1 1532.7,944.4 1533.6,948.8 C1534.5,953.2 1535.4,953.3 1536.3,953.3 C1537.8,953.3 1539.3,950.6 1540.8,950.6 C1543.6,950.6 1546.3,959.7 1549.1,959.7 C1552.1,959.7 1555.1,955.9 1558.1,952.5 C1561.4,948.8 1564.8,938.0 1568.1,938.0 C1569.9,938.0 1571.7,938.0 1573.5,942.5 C1574.4,944.8 1575.3,951.1 1576.2,957.9 C1577.1,964.7 1578.0,969.1 1578.9,983.2 C1579.5,993.1 1580.2,1011.8 1580.8,1024.9 C1581.7,1043.5 1582.6,1061.1 1583.5,1077.4 C1584.4,1093.7 1585.3,1111.3 1586.2,1122.7 C1587.4,1137.9 1588.6,1153.5 1589.8,1153.5 C1591.3,1153.5 1592.8,1153.5 1594.3,1146.3 C1594.9,1143.4 1595.5,1131.6 1596.1,1115.5 C1596.9,1095.0 1597.6,1055.0 1598.4,1031.8 C1598.9,1015.7 1599.5,1001.3 1600.0,993.2 C1601.1,976.0 1602.3,979.0 1603.4,972.1 C1604.2,967.0 1605.1,960.6 1605.9,957.0 C1606.7,953.4 1607.6,951.8 1608.4,950.3 C1609.1,949.1 1609.8,948.6 1610.5,948.6 C1610.8,948.6 1611.1,963.0 1611.4,963.7 C1612.1,965.4 1612.8,965.4 1613.5,965.4 C1614.3,965.4 1615.2,944.4 1616.0,944.4 C1616.8,944.4 1617.7,944.4 1618.5,950.3 C1618.8,952.4 1619.1,970.0 1619.4,978.0 C1620.0,993.0 1620.5,1014.5 1621.1,1015.8 C1622.2,1018.4 1623.3,1018.4 1624.4,1018.4 C1625.2,1018.4 1626.1,1018.4 1626.9,997.4 C1627.2,989.8 1627.5,968.8 1627.8,958.7 L1628.6,939.4 C1629.7,936.8 1630.9,936.9 1632.0,936.8 C1633.1,936.7 1634.2,936.1 1635.3,935.2 C1636.4,934.2 1637.6,931.0 1638.7,931.0 C1639.4,931.0 1640.1,931.0 1640.8,936.0 C1641.2,939.1 1641.7,958.7 1642.1,965.4 C1642.6,973.7 1643.2,975.4 1643.7,978.9 C1644.6,984.5 1645.4,990.6 1646.3,990.6 C1647.1,990.6 1648.0,990.6 1648.8,988.1 L1649.6,952.8 C1650.2,936.7 1650.7,931.4 1651.3,931.0 C1652.7,930.1 1654.1,930.1 1655.5,930.1 C1656.8,930.1 1658.2,930.1 1659.5,931.5 C1659.8,931.9 1660.2,1000.0 1660.5,1000.0 C1660.9,1000.0 1661.4,952.0 1661.8,952.0 C1662.2,952.0 1662.7,1002.4 1663.1,1002.4 C1663.5,1002.4 1664.0,956.0 1664.4,956.0 C1664.8,956.0 1665.2,999.0 1665.6,999.0 C1665.9,999.0 1666.1,945.6 1666.4,945.3 C1667.3,944.4 1668.1,944.4 1669.0,944.4 C1669.5,944.4 1670.1,955.1 1670.6,980.5 L1671.2,1024.2 C1671.9,1032.6 1672.5,1032.6 1673.2,1032.6 C1674.0,1032.6 1674.9,1032.6 1675.7,1031.0 L1676.5,1011.6 C1677.3,1007.8 1678.2,1009.1 1679.0,1007.4 C1679.6,1006.2 1680.1,1000.8 1680.7,990.6 C1681.0,985.2 1681.3,972.0 1681.6,967.1 C1682.1,958.5 1682.7,958.9 1683.2,957.0 C1684.6,952.1 1686.0,953.1 1687.4,952.0 C1689.7,950.2 1691.9,948.6 1694.2,948.6 C1695.3,948.6 1696.4,948.6 1697.5,952.0 C1698.1,953.8 1698.6,965.4 1699.2,965.4 C1700.2,965.4 1701.1,965.1 1702.1,965.1 C1704.2,965.1 1706.3,965.1 1708.4,966.9 C1709.0,967.4 1709.7,980.6 1710.3,988.7 C1711.2,1000.2 1712.1,1026.7 1713.0,1026.7 C1713.9,1026.7 1714.8,1019.5 1715.7,1005.0 C1716.0,1000.2 1716.3,984.8 1716.6,983.2 C1718.1,975.1 1719.6,975.1 1721.1,975.1 C1724.7,975.1 1728.4,976.0 1732.0,977.8 C1734.4,979.0 1736.8,981.6 1739.2,983.2 C1742.2,985.3 1745.3,987.4 1748.3,988.7 C1751.0,989.8 1753.7,988.8 1756.4,995.0 C1757.3,997.1 1758.3,1014.0 1759.2,1014.0 C1760.4,1014.0 1761.6,1007.4 1762.8,1005.0 C1764.0,1002.6 1765.2,999.5 1766.4,999.5 L1766.4,1006.8" fill="none" stroke="#3a50a5" stroke-opacity="0.33" stroke-width="6.5" stroke-linejoin="round" stroke-linecap="round"/>
<path d="M216.0,898.6 C264.8,898.6 313.5,898.6 362.3,898.6 C362.7,898.6 363.1,900.9 363.5,900.9 C368.4,900.9 373.4,900.9 378.3,900.9 C379.8,900.9 381.4,902.6 382.9,903.2 C386.7,904.7 390.5,905.4 394.3,906.6 C400.4,908.5 406.5,909.5 412.6,912.3 C416.4,914.0 420.2,916.4 424.0,919.2 C430.1,923.7 436.2,929.8 442.3,935.2 C449.2,941.2 456.0,947.7 462.9,953.4 C468.2,957.9 473.6,961.6 478.9,966.0 C485.0,971.1 491.1,977.5 497.2,982.0 C500.1,984.2 503.1,986.1 506.0,987.3 C510.7,989.2 515.3,990.3 520.0,990.3 C524.0,990.3 528.0,990.0 532.0,989.2 C536.3,988.3 540.7,987.4 545.0,985.2 C551.9,981.7 558.9,975.8 565.8,970.6 C573.4,964.9 581.1,958.9 588.7,952.3 C594.0,947.7 599.4,940.9 604.7,937.4 C607.5,935.6 610.3,935.2 613.1,934.2 C616.0,933.1 618.9,932.3 621.8,931.0 C624.7,929.7 627.6,926.2 630.5,926.2 C632.7,926.2 634.8,926.2 637.0,926.6 C638.1,926.8 639.2,929.2 640.3,929.2 C641.4,929.2 642.4,924.0 643.5,924.0 C650.0,924.0 656.6,924.0 663.1,924.0 C666.7,924.0 670.4,925.8 674.0,929.9 C675.5,931.6 676.9,935.0 678.4,937.5 C681.3,942.5 684.2,949.6 687.1,952.7 C689.3,955.0 691.4,953.7 693.6,956.0 C695.1,957.6 696.5,960.5 698.0,963.6 C699.4,966.7 700.9,974.5 702.3,974.5 C703.4,974.5 704.5,974.5 705.6,974.5 C706.7,974.5 707.8,966.9 708.9,966.9 C711.4,966.9 714.0,968.0 716.5,968.0 C718.3,968.0 720.1,954.6 721.9,950.6 C724.8,944.1 727.7,942.0 730.6,939.7 C732.8,938.0 735.0,938.8 737.2,937.5 C739.0,936.5 740.8,933.1 742.6,933.1 C744.4,933.1 746.3,933.1 748.1,936.4 C749.2,938.3 750.2,944.6 751.3,948.4 C752.8,953.7 754.2,963.6 755.7,963.6 C757.1,963.6 758.6,963.1 760.0,959.3 C761.8,954.4 763.7,940.5 765.5,935.3 C767.7,929.1 769.8,929.1 772.0,926.6 C774.9,923.2 777.8,920.6 780.7,917.9 C783.6,915.2 786.5,912.0 789.4,910.3 C793.0,908.2 796.7,908.0 800.3,907.0 C803.6,906.1 806.8,904.9 810.1,904.8 C822.1,904.4 834.0,904.4 846.0,904.4 C865.6,904.4 885.2,904.8 904.8,904.8 C905.5,904.8 906.3,903.1 907.0,903.1 C914.6,903.0 922.3,903.1 929.9,902.7 C930.3,902.7 930.6,900.5 931.0,900.5 C942.6,900.5 954.2,900.5 965.8,900.5 C966.5,900.5 967.3,897.9 968.0,897.9 C970.5,897.9 973.1,897.9 975.6,897.9 C976.0,897.9 976.3,900.5 976.7,900.5 C987.1,900.5 997.4,900.5 1007.8,900.5 L1007.8,897.8 C1015.2,897.8 1022.6,897.8 1030.0,897.8 C1030.6,897.8 1031.2,895.9 1031.8,895.9 C1039.2,895.9 1046.6,895.9 1054.0,895.9 C1054.6,895.9 1055.3,894.3 1055.9,894.1 C1059.3,893.1 1062.7,893.1 1066.1,893.1 C1067.0,893.1 1067.9,896.3 1068.8,896.8 C1072.5,898.7 1076.2,898.7 1079.9,898.7 C1085.5,898.7 1091.0,898.7 1096.6,897.8 C1100.3,897.2 1104.0,896.2 1107.7,895.0 C1110.8,894.0 1113.9,891.3 1117.0,891.3 C1121.9,891.3 1126.9,891.3 1131.8,891.3 C1132.4,891.3 1133.0,894.1 1133.6,894.1 C1142.9,894.1 1152.1,894.1 1161.4,894.1 C1163.2,894.1 1165.1,897.6 1166.9,897.8 C1171.8,898.3 1176.8,898.0 1181.7,898.7 C1182.3,898.8 1183.0,900.5 1183.6,900.5 C1195.9,900.5 1208.3,900.5 1220.6,900.5 C1221.2,900.5 1221.9,903.3 1222.5,903.3 C1234.8,903.3 1247.2,903.3 1259.5,903.3 C1262.0,903.3 1264.4,905.7 1266.9,906.1 C1271.2,906.7 1275.5,906.4 1279.8,907.0 C1282.3,907.4 1284.7,908.8 1287.2,909.8 C1290.8,911.3 1294.5,911.0 1298.1,914.4 C1299.3,915.5 1300.6,914.5 1301.8,921.7 C1302.4,925.2 1303.0,945.2 1303.6,945.2 C1304.8,945.2 1306.0,945.2 1307.2,945.2 C1308.1,945.2 1309.0,925.3 1309.9,925.3 C1311.1,925.3 1312.3,925.3 1313.5,925.3 C1314.7,925.3 1316.0,925.3 1317.2,930.7 C1317.8,933.3 1318.4,954.8 1319.0,966.9 C1319.6,979.0 1320.2,996.0 1320.8,1003.1 C1321.7,1013.7 1322.6,1013.4 1323.5,1014.0 C1325.3,1015.2 1327.1,1014.1 1328.9,1021.3 C1329.2,1022.5 1329.5,1041.5 1329.8,1048.4 C1330.4,1063.1 1331.1,1071.1 1331.7,1079.2 C1332.6,1090.7 1333.5,1095.5 1334.4,1104.6 C1335.3,1113.6 1336.2,1127.3 1337.1,1133.5 C1338.3,1141.7 1339.5,1144.4 1340.7,1144.4 C1341.9,1144.4 1343.1,1144.4 1344.3,1139.0 C1344.9,1136.3 1345.5,1116.7 1346.1,1106.4 C1346.7,1095.5 1347.4,1084.9 1348.0,1075.6 C1348.6,1066.8 1349.2,1058.5 1349.8,1052.0 C1350.7,1042.2 1351.6,1037.8 1352.5,1028.5 C1353.1,1022.3 1353.7,1011.9 1354.3,1006.8 C1355.3,998.4 1356.3,1000.6 1357.3,992.4 C1357.7,989.1 1358.1,980.2 1358.5,978.4 C1359.3,974.9 1360.0,974.9 1360.8,974.9 C1361.4,974.9 1361.9,986.7 1362.5,990.0 C1363.1,993.4 1363.7,994.7 1364.3,994.7 C1364.9,994.7 1365.4,985.0 1366.0,985.0 C1366.6,985.0 1367.2,994.7 1367.8,994.7 C1368.4,994.7 1369.0,985.2 1369.6,978.4 C1370.0,974.2 1370.3,966.5 1370.7,963.3 C1371.7,954.9 1372.6,952.8 1373.6,952.8 C1374.8,952.8 1375.9,954.1 1377.1,955.1 C1378.3,956.1 1379.4,958.6 1380.6,958.6 C1382.5,958.6 1384.5,958.6 1386.4,958.6 C1387.6,958.6 1388.7,963.5 1389.9,966.8 C1390.7,969.1 1391.5,970.7 1392.3,974.9 C1393.1,978.9 1393.8,976.6 1394.6,991.2 C1395.0,998.8 1395.4,1019.8 1395.8,1028.5 C1396.6,1045.3 1397.3,1057.6 1398.1,1057.6 C1398.7,1057.6 1399.4,1045.0 1400.0,1045.0 C1400.4,1045.0 1400.8,1056.5 1401.2,1057.0 C1401.7,1057.6 1402.2,1057.6 1402.7,1057.6 L1403.3,1030.8 C1404.3,1023.8 1405.2,1023.8 1406.2,1023.8 C1407.0,1023.8 1407.8,1027.3 1408.6,1033.1 C1409.0,1035.8 1409.3,1042.0 1409.7,1044.8 C1410.5,1051.0 1411.3,1056.0 1412.1,1056.4 C1413.6,1057.1 1415.2,1056.5 1416.7,1059.9 C1417.1,1060.8 1417.5,1084.8 1417.9,1091.4 C1419.0,1110.1 1420.2,1114.6 1421.3,1114.6 C1422.2,1114.6 1423.0,1096.0 1423.9,1096.0 C1424.8,1096.0 1425.8,1097.3 1426.7,1097.3 C1427.6,1097.3 1428.5,1076.1 1429.4,1064.7 C1430.0,1056.7 1430.7,1048.7 1431.3,1039.4 C1431.9,1030.6 1432.5,1017.2 1433.1,1010.4 C1434.0,1000.1 1434.9,998.9 1435.8,992.3 C1436.4,987.9 1437.0,981.6 1437.6,977.8 C1438.8,970.2 1440.0,965.0 1441.2,961.5 C1443.9,953.5 1446.7,955.2 1449.4,950.6 C1451.2,947.6 1453.0,939.8 1454.8,939.8 C1456.6,939.8 1458.4,939.8 1460.2,939.8 C1462.0,939.8 1463.9,943.4 1465.7,943.4 C1467.5,943.4 1469.3,939.8 1471.1,939.8 C1472.3,939.8 1473.5,945.2 1474.7,945.2 C1475.9,945.2 1477.1,934.3 1478.3,934.3 C1479.5,934.3 1480.8,934.3 1482.0,939.8 C1482.6,942.5 1483.2,956.8 1483.8,966.9 C1484.4,977.0 1485.0,1000.4 1485.6,1000.4 C1486.5,1000.4 1487.4,986.4 1488.3,981.4 C1489.2,976.4 1490.1,973.1 1491.0,970.5 C1492.8,965.4 1494.6,967.5 1496.4,961.5 C1497.6,957.5 1498.8,948.2 1500.0,943.4 C1501.2,938.5 1502.5,933.0 1503.7,932.5 C1505.8,931.6 1507.9,931.6 1510.0,931.6 C1512.1,931.6 1514.3,947.0 1516.4,947.0 C1517.9,947.0 1519.4,935.8 1520.9,932.5 C1522.4,929.2 1523.9,927.1 1525.4,927.1 C1527.2,927.1 1529.1,927.1 1530.9,927.1 C1531.8,927.1 1532.7,944.4 1533.6,948.8 C1534.5,953.2 1535.4,953.3 1536.3,953.3 C1537.8,953.3 1539.3,950.6 1540.8,950.6 C1543.6,950.6 1546.3,959.7 1549.1,959.7 C1552.1,959.7 1555.1,955.9 1558.1,952.5 C1561.4,948.8 1564.8,938.0 1568.1,938.0 C1569.9,938.0 1571.7,938.0 1573.5,942.5 C1574.4,944.8 1575.3,951.1 1576.2,957.9 C1577.1,964.7 1578.0,969.1 1578.9,983.2 C1579.5,993.1 1580.2,1011.8 1580.8,1024.9 C1581.7,1043.5 1582.6,1061.1 1583.5,1077.4 C1584.4,1093.7 1585.3,1111.3 1586.2,1122.7 C1587.4,1137.9 1588.6,1153.5 1589.8,1153.5 C1591.3,1153.5 1592.8,1153.5 1594.3,1146.3 C1594.9,1143.4 1595.5,1131.6 1596.1,1115.5 C1596.9,1095.0 1597.6,1055.0 1598.4,1031.8 C1598.9,1015.7 1599.5,1001.3 1600.0,993.2 C1601.1,976.0 1602.3,979.0 1603.4,972.1 C1604.2,967.0 1605.1,960.6 1605.9,957.0 C1606.7,953.4 1607.6,951.8 1608.4,950.3 C1609.1,949.1 1609.8,948.6 1610.5,948.6 C1610.8,948.6 1611.1,963.0 1611.4,963.7 C1612.1,965.4 1612.8,965.4 1613.5,965.4 C1614.3,965.4 1615.2,944.4 1616.0,944.4 C1616.8,944.4 1617.7,944.4 1618.5,950.3 C1618.8,952.4 1619.1,970.0 1619.4,978.0 C1620.0,993.0 1620.5,1014.5 1621.1,1015.8 C1622.2,1018.4 1623.3,1018.4 1624.4,1018.4 C1625.2,1018.4 1626.1,1018.4 1626.9,997.4 C1627.2,989.8 1627.5,968.8 1627.8,958.7 L1628.6,939.4 C1629.7,936.8 1630.9,936.9 1632.0,936.8 C1633.1,936.7 1634.2,936.1 1635.3,935.2 C1636.4,934.2 1637.6,931.0 1638.7,931.0 C1639.4,931.0 1640.1,931.0 1640.8,936.0 C1641.2,939.1 1641.7,958.7 1642.1,965.4 C1642.6,973.7 1643.2,975.4 1643.7,978.9 C1644.6,984.5 1645.4,990.6 1646.3,990.6 C1647.1,990.6 1648.0,990.6 1648.8,988.1 L1649.6,952.8 C1650.2,936.7 1650.7,931.4 1651.3,931.0 C1652.7,930.1 1654.1,930.1 1655.5,930.1 C1656.8,930.1 1658.2,930.1 1659.5,931.5 C1659.8,931.9 1660.2,1000.0 1660.5,1000.0 C1660.9,1000.0 1661.4,952.0 1661.8,952.0 C1662.2,952.0 1662.7,1002.4 1663.1,1002.4 C1663.5,1002.4 1664.0,956.0 1664.4,956.0 C1664.8,956.0 1665.2,999.0 1665.6,999.0 C1665.9,999.0 1666.1,945.6 1666.4,945.3 C1667.3,944.4 1668.1,944.4 1669.0,944.4 C1669.5,944.4 1670.1,955.1 1670.6,980.5 L1671.2,1024.2 C1671.9,1032.6 1672.5,1032.6 1673.2,1032.6 C1674.0,1032.6 1674.9,1032.6 1675.7,1031.0 L1676.5,1011.6 C1677.3,1007.8 1678.2,1009.1 1679.0,1007.4 C1679.6,1006.2 1680.1,1000.8 1680.7,990.6 C1681.0,985.2 1681.3,972.0 1681.6,967.1 C1682.1,958.5 1682.7,958.9 1683.2,957.0 C1684.6,952.1 1686.0,953.1 1687.4,952.0 C1689.7,950.2 1691.9,948.6 1694.2,948.6 C1695.3,948.6 1696.4,948.6 1697.5,952.0 C1698.1,953.8 1698.6,965.4 1699.2,965.4 C1700.2,965.4 1701.1,965.1 1702.1,965.1 C1704.2,965.1 1706.3,965.1 1708.4,966.9 C1709.0,967.4 1709.7,980.6 1710.3,988.7 C1711.2,1000.2 1712.1,1026.7 1713.0,1026.7 C1713.9,1026.7 1714.8,1019.5 1715.7,1005.0 C1716.0,1000.2 1716.3,984.8 1716.6,983.2 C1718.1,975.1 1719.6,975.1 1721.1,975.1 C1724.7,975.1 1728.4,976.0 1732.0,977.8 C1734.4,979.0 1736.8,981.6 1739.2,983.2 C1742.2,985.3 1745.3,987.4 1748.3,988.7 C1751.0,989.8 1753.7,988.8 1756.4,995.0 C1757.3,997.1 1758.3,1014.0 1759.2,1014.0 C1760.4,1014.0 1761.6,1007.4 1762.8,1005.0 C1764.0,1002.6 1765.2,999.5 1766.4,999.5 L1766.4,1006.8" transform="translate(-1.00,0)" fill="none" stroke="#3a50a5" stroke-width="2.4" stroke-linejoin="round" stroke-linecap="round"/>
<path d="M216.0,898.6 C264.8,898.6 313.5,898.6 362.3,898.6 C362.7,898.6 363.1,900.9 363.5,900.9 C368.4,900.9 373.4,900.9 378.3,900.9 C379.8,900.9 381.4,902.6 382.9,903.2 C386.7,904.7 390.5,905.4 394.3,906.6 C400.4,908.5 406.5,909.5 412.6,912.3 C416.4,914.0 420.2,916.4 424.0,919.2 C430.1,923.7 436.2,929.8 442.3,935.2 C449.2,941.2 456.0,947.7 462.9,953.4 C468.2,957.9 473.6,961.6 478.9,966.0 C485.0,971.1 491.1,977.5 497.2,982.0 C500.1,984.2 503.1,986.1 506.0,987.3 C510.7,989.2 515.3,990.3 520.0,990.3 C524.0,990.3 528.0,990.0 532.0,989.2 C536.3,988.3 540.7,987.4 545.0,985.2 C551.9,981.7 558.9,975.8 565.8,970.6 C573.4,964.9 581.1,958.9 588.7,952.3 C594.0,947.7 599.4,940.9 604.7,937.4 C607.5,935.6 610.3,935.2 613.1,934.2 C616.0,933.1 618.9,932.3 621.8,931.0 C624.7,929.7 627.6,926.2 630.5,926.2 C632.7,926.2 634.8,926.2 637.0,926.6 C638.1,926.8 639.2,929.2 640.3,929.2 C641.4,929.2 642.4,924.0 643.5,924.0 C650.0,924.0 656.6,924.0 663.1,924.0 C666.7,924.0 670.4,925.8 674.0,929.9 C675.5,931.6 676.9,935.0 678.4,937.5 C681.3,942.5 684.2,949.6 687.1,952.7 C689.3,955.0 691.4,953.7 693.6,956.0 C695.1,957.6 696.5,960.5 698.0,963.6 C699.4,966.7 700.9,974.5 702.3,974.5 C703.4,974.5 704.5,974.5 705.6,974.5 C706.7,974.5 707.8,966.9 708.9,966.9 C711.4,966.9 714.0,968.0 716.5,968.0 C718.3,968.0 720.1,954.6 721.9,950.6 C724.8,944.1 727.7,942.0 730.6,939.7 C732.8,938.0 735.0,938.8 737.2,937.5 C739.0,936.5 740.8,933.1 742.6,933.1 C744.4,933.1 746.3,933.1 748.1,936.4 C749.2,938.3 750.2,944.6 751.3,948.4 C752.8,953.7 754.2,963.6 755.7,963.6 C757.1,963.6 758.6,963.1 760.0,959.3 C761.8,954.4 763.7,940.5 765.5,935.3 C767.7,929.1 769.8,929.1 772.0,926.6 C774.9,923.2 777.8,920.6 780.7,917.9 C783.6,915.2 786.5,912.0 789.4,910.3 C793.0,908.2 796.7,908.0 800.3,907.0 C803.6,906.1 806.8,904.9 810.1,904.8 C822.1,904.4 834.0,904.4 846.0,904.4 C865.6,904.4 885.2,904.8 904.8,904.8 C905.5,904.8 906.3,903.1 907.0,903.1 C914.6,903.0 922.3,903.1 929.9,902.7 C930.3,902.7 930.6,900.5 931.0,900.5 C942.6,900.5 954.2,900.5 965.8,900.5 C966.5,900.5 967.3,897.9 968.0,897.9 C970.5,897.9 973.1,897.9 975.6,897.9 C976.0,897.9 976.3,900.5 976.7,900.5 C987.1,900.5 997.4,900.5 1007.8,900.5 L1007.8,897.8 C1015.2,897.8 1022.6,897.8 1030.0,897.8 C1030.6,897.8 1031.2,895.9 1031.8,895.9 C1039.2,895.9 1046.6,895.9 1054.0,895.9 C1054.6,895.9 1055.3,894.3 1055.9,894.1 C1059.3,893.1 1062.7,893.1 1066.1,893.1 C1067.0,893.1 1067.9,896.3 1068.8,896.8 C1072.5,898.7 1076.2,898.7 1079.9,898.7 C1085.5,898.7 1091.0,898.7 1096.6,897.8 C1100.3,897.2 1104.0,896.2 1107.7,895.0 C1110.8,894.0 1113.9,891.3 1117.0,891.3 C1121.9,891.3 1126.9,891.3 1131.8,891.3 C1132.4,891.3 1133.0,894.1 1133.6,894.1 C1142.9,894.1 1152.1,894.1 1161.4,894.1 C1163.2,894.1 1165.1,897.6 1166.9,897.8 C1171.8,898.3 1176.8,898.0 1181.7,898.7 C1182.3,898.8 1183.0,900.5 1183.6,900.5 C1195.9,900.5 1208.3,900.5 1220.6,900.5 C1221.2,900.5 1221.9,903.3 1222.5,903.3 C1234.8,903.3 1247.2,903.3 1259.5,903.3 C1262.0,903.3 1264.4,905.7 1266.9,906.1 C1271.2,906.7 1275.5,906.4 1279.8,907.0 C1282.3,907.4 1284.7,908.8 1287.2,909.8 C1290.8,911.3 1294.5,911.0 1298.1,914.4 C1299.3,915.5 1300.6,914.5 1301.8,921.7 C1302.4,925.2 1303.0,945.2 1303.6,945.2 C1304.8,945.2 1306.0,945.2 1307.2,945.2 C1308.1,945.2 1309.0,925.3 1309.9,925.3 C1311.1,925.3 1312.3,925.3 1313.5,925.3 C1314.7,925.3 1316.0,925.3 1317.2,930.7 C1317.8,933.3 1318.4,954.8 1319.0,966.9 C1319.6,979.0 1320.2,996.0 1320.8,1003.1 C1321.7,1013.7 1322.6,1013.4 1323.5,1014.0 C1325.3,1015.2 1327.1,1014.1 1328.9,1021.3 C1329.2,1022.5 1329.5,1041.5 1329.8,1048.4 C1330.4,1063.1 1331.1,1071.1 1331.7,1079.2 C1332.6,1090.7 1333.5,1095.5 1334.4,1104.6 C1335.3,1113.6 1336.2,1127.3 1337.1,1133.5 C1338.3,1141.7 1339.5,1144.4 1340.7,1144.4 C1341.9,1144.4 1343.1,1144.4 1344.3,1139.0 C1344.9,1136.3 1345.5,1116.7 1346.1,1106.4 C1346.7,1095.5 1347.4,1084.9 1348.0,1075.6 C1348.6,1066.8 1349.2,1058.5 1349.8,1052.0 C1350.7,1042.2 1351.6,1037.8 1352.5,1028.5 C1353.1,1022.3 1353.7,1011.9 1354.3,1006.8 C1355.3,998.4 1356.3,1000.6 1357.3,992.4 C1357.7,989.1 1358.1,980.2 1358.5,978.4 C1359.3,974.9 1360.0,974.9 1360.8,974.9 C1361.4,974.9 1361.9,986.7 1362.5,990.0 C1363.1,993.4 1363.7,994.7 1364.3,994.7 C1364.9,994.7 1365.4,985.0 1366.0,985.0 C1366.6,985.0 1367.2,994.7 1367.8,994.7 C1368.4,994.7 1369.0,985.2 1369.6,978.4 C1370.0,974.2 1370.3,966.5 1370.7,963.3 C1371.7,954.9 1372.6,952.8 1373.6,952.8 C1374.8,952.8 1375.9,954.1 1377.1,955.1 C1378.3,956.1 1379.4,958.6 1380.6,958.6 C1382.5,958.6 1384.5,958.6 1386.4,958.6 C1387.6,958.6 1388.7,963.5 1389.9,966.8 C1390.7,969.1 1391.5,970.7 1392.3,974.9 C1393.1,978.9 1393.8,976.6 1394.6,991.2 C1395.0,998.8 1395.4,1019.8 1395.8,1028.5 C1396.6,1045.3 1397.3,1057.6 1398.1,1057.6 C1398.7,1057.6 1399.4,1045.0 1400.0,1045.0 C1400.4,1045.0 1400.8,1056.5 1401.2,1057.0 C1401.7,1057.6 1402.2,1057.6 1402.7,1057.6 L1403.3,1030.8 C1404.3,1023.8 1405.2,1023.8 1406.2,1023.8 C1407.0,1023.8 1407.8,1027.3 1408.6,1033.1 C1409.0,1035.8 1409.3,1042.0 1409.7,1044.8 C1410.5,1051.0 1411.3,1056.0 1412.1,1056.4 C1413.6,1057.1 1415.2,1056.5 1416.7,1059.9 C1417.1,1060.8 1417.5,1084.8 1417.9,1091.4 C1419.0,1110.1 1420.2,1114.6 1421.3,1114.6 C1422.2,1114.6 1423.0,1096.0 1423.9,1096.0 C1424.8,1096.0 1425.8,1097.3 1426.7,1097.3 C1427.6,1097.3 1428.5,1076.1 1429.4,1064.7 C1430.0,1056.7 1430.7,1048.7 1431.3,1039.4 C1431.9,1030.6 1432.5,1017.2 1433.1,1010.4 C1434.0,1000.1 1434.9,998.9 1435.8,992.3 C1436.4,987.9 1437.0,981.6 1437.6,977.8 C1438.8,970.2 1440.0,965.0 1441.2,961.5 C1443.9,953.5 1446.7,955.2 1449.4,950.6 C1451.2,947.6 1453.0,939.8 1454.8,939.8 C1456.6,939.8 1458.4,939.8 1460.2,939.8 C1462.0,939.8 1463.9,943.4 1465.7,943.4 C1467.5,943.4 1469.3,939.8 1471.1,939.8 C1472.3,939.8 1473.5,945.2 1474.7,945.2 C1475.9,945.2 1477.1,934.3 1478.3,934.3 C1479.5,934.3 1480.8,934.3 1482.0,939.8 C1482.6,942.5 1483.2,956.8 1483.8,966.9 C1484.4,977.0 1485.0,1000.4 1485.6,1000.4 C1486.5,1000.4 1487.4,986.4 1488.3,981.4 C1489.2,976.4 1490.1,973.1 1491.0,970.5 C1492.8,965.4 1494.6,967.5 1496.4,961.5 C1497.6,957.5 1498.8,948.2 1500.0,943.4 C1501.2,938.5 1502.5,933.0 1503.7,932.5 C1505.8,931.6 1507.9,931.6 1510.0,931.6 C1512.1,931.6 1514.3,947.0 1516.4,947.0 C1517.9,947.0 1519.4,935.8 1520.9,932.5 C1522.4,929.2 1523.9,927.1 1525.4,927.1 C1527.2,927.1 1529.1,927.1 1530.9,927.1 C1531.8,927.1 1532.7,944.4 1533.6,948.8 C1534.5,953.2 1535.4,953.3 1536.3,953.3 C1537.8,953.3 1539.3,950.6 1540.8,950.6 C1543.6,950.6 1546.3,959.7 1549.1,959.7 C1552.1,959.7 1555.1,955.9 1558.1,952.5 C1561.4,948.8 1564.8,938.0 1568.1,938.0 C1569.9,938.0 1571.7,938.0 1573.5,942.5 C1574.4,944.8 1575.3,951.1 1576.2,957.9 C1577.1,964.7 1578.0,969.1 1578.9,983.2 C1579.5,993.1 1580.2,1011.8 1580.8,1024.9 C1581.7,1043.5 1582.6,1061.1 1583.5,1077.4 C1584.4,1093.7 1585.3,1111.3 1586.2,1122.7 C1587.4,1137.9 1588.6,1153.5 1589.8,1153.5 C1591.3,1153.5 1592.8,1153.5 1594.3,1146.3 C1594.9,1143.4 1595.5,1131.6 1596.1,1115.5 C1596.9,1095.0 1597.6,1055.0 1598.4,1031.8 C1598.9,1015.7 1599.5,1001.3 1600.0,993.2 C1601.1,976.0 1602.3,979.0 1603.4,972.1 C1604.2,967.0 1605.1,960.6 1605.9,957.0 C1606.7,953.4 1607.6,951.8 1608.4,950.3 C1609.1,949.1 1609.8,948.6 1610.5,948.6 C1610.8,948.6 1611.1,963.0 1611.4,963.7 C1612.1,965.4 1612.8,965.4 1613.5,965.4 C1614.3,965.4 1615.2,944.4 1616.0,944.4 C1616.8,944.4 1617.7,944.4 1618.5,950.3 C1618.8,952.4 1619.1,970.0 1619.4,978.0 C1620.0,993.0 1620.5,1014.5 1621.1,1015.8 C1622.2,1018.4 1623.3,1018.4 1624.4,1018.4 C1625.2,1018.4 1626.1,1018.4 1626.9,997.4 C1627.2,989.8 1627.5,968.8 1627.8,958.7 L1628.6,939.4 C1629.7,936.8 1630.9,936.9 1632.0,936.8 C1633.1,936.7 1634.2,936.1 1635.3,935.2 C1636.4,934.2 1637.6,931.0 1638.7,931.0 C1639.4,931.0 1640.1,931.0 1640.8,936.0 C1641.2,939.1 1641.7,958.7 1642.1,965.4 C1642.6,973.7 1643.2,975.4 1643.7,978.9 C1644.6,984.5 1645.4,990.6 1646.3,990.6 C1647.1,990.6 1648.0,990.6 1648.8,988.1 L1649.6,952.8 C1650.2,936.7 1650.7,931.4 1651.3,931.0 C1652.7,930.1 1654.1,930.1 1655.5,930.1 C1656.8,930.1 1658.2,930.1 1659.5,931.5 C1659.8,931.9 1660.2,1000.0 1660.5,1000.0 C1660.9,1000.0 1661.4,952.0 1661.8,952.0 C1662.2,952.0 1662.7,1002.4 1663.1,1002.4 C1663.5,1002.4 1664.0,956.0 1664.4,956.0 C1664.8,956.0 1665.2,999.0 1665.6,999.0 C1665.9,999.0 1666.1,945.6 1666.4,945.3 C1667.3,944.4 1668.1,944.4 1669.0,944.4 C1669.5,944.4 1670.1,955.1 1670.6,980.5 L1671.2,1024.2 C1671.9,1032.6 1672.5,1032.6 1673.2,1032.6 C1674.0,1032.6 1674.9,1032.6 1675.7,1031.0 L1676.5,1011.6 C1677.3,1007.8 1678.2,1009.1 1679.0,1007.4 C1679.6,1006.2 1680.1,1000.8 1680.7,990.6 C1681.0,985.2 1681.3,972.0 1681.6,967.1 C1682.1,958.5 1682.7,958.9 1683.2,957.0 C1684.6,952.1 1686.0,953.1 1687.4,952.0 C1689.7,950.2 1691.9,948.6 1694.2,948.6 C1695.3,948.6 1696.4,948.6 1697.5,952.0 C1698.1,953.8 1698.6,965.4 1699.2,965.4 C1700.2,965.4 1701.1,965.1 1702.1,965.1 C1704.2,965.1 1706.3,965.1 1708.4,966.9 C1709.0,967.4 1709.7,980.6 1710.3,988.7 C1711.2,1000.2 1712.1,1026.7 1713.0,1026.7 C1713.9,1026.7 1714.8,1019.5 1715.7,1005.0 C1716.0,1000.2 1716.3,984.8 1716.6,983.2 C1718.1,975.1 1719.6,975.1 1721.1,975.1 C1724.7,975.1 1728.4,976.0 1732.0,977.8 C1734.4,979.0 1736.8,981.6 1739.2,983.2 C1742.2,985.3 1745.3,987.4 1748.3,988.7 C1751.0,989.8 1753.7,988.8 1756.4,995.0 C1757.3,997.1 1758.3,1014.0 1759.2,1014.0 C1760.4,1014.0 1761.6,1007.4 1762.8,1005.0 C1764.0,1002.6 1765.2,999.5 1766.4,999.5 L1766.4,1006.8" transform="translate(1.00,0)" fill="none" stroke="#3a50a5" stroke-width="2.4" stroke-linejoin="round" stroke-linecap="round"/>
<line x1="707.5" y1="280.0" x2="707.5" y2="315.0" stroke="#111" stroke-width="2" stroke-dasharray="11.0 5.28" stroke-dashoffset="0.00"/>
<line x1="707.5" y1="428.0" x2="707.5" y2="1334.0" stroke="#111" stroke-width="2" stroke-dasharray="11.0 5.28" stroke-dashoffset="1.48"/>
<line x1="518.9" y1="1001.3" x2="518.9" y2="1057.0" stroke="#111" stroke-width="2" stroke-dasharray="11.0 5.28" stroke-dashoffset="0.00"/>
<line x1="518.9" y1="1170.0" x2="518.9" y2="1326.0" stroke="#111" stroke-width="2" stroke-dasharray="11.0 5.28" stroke-dashoffset="5.90"/>
<line x1="1335.9" y1="370.5" x2="1335.9" y2="1326.0" stroke="#111" stroke-width="2" stroke-dasharray="11.0 5.28" stroke-dashoffset="0.00"/>
<line x1="1638.5" y1="676.1" x2="1638.5" y2="1326.0" stroke="#111" stroke-width="2" stroke-dasharray="11.0 5.28" stroke-dashoffset="0.00"/>
<line x1="1654.9" y1="348.0" x2="1654.9" y2="1326.0" stroke="#111" stroke-width="2" stroke-dasharray="11.0 5.28" stroke-dashoffset="0.00"/>
<rect x="187.8" y="33.3" width="1607.4" height="1295" fill="none" stroke="#231f20" stroke-width="4.6"/>
<line x1="197" y1="1302" x2="197" y2="1327" stroke="#231f20" stroke-width="4.4"/>
<line x1="432" y1="1302" x2="432" y2="1327" stroke="#231f20" stroke-width="4.4"/>
<line x1="667.3" y1="1302" x2="667.3" y2="1327" stroke="#231f20" stroke-width="4.4"/>
<line x1="902.6" y1="1302" x2="902.6" y2="1327" stroke="#231f20" stroke-width="4.4"/>
<line x1="1138.2" y1="1302" x2="1138.2" y2="1327" stroke="#231f20" stroke-width="4.4"/>
<line x1="1373.5" y1="1302" x2="1373.5" y2="1327" stroke="#231f20" stroke-width="4.4"/>
<line x1="1607.5" y1="1302" x2="1607.5" y2="1327" stroke="#231f20" stroke-width="4.4"/>
<text id="t_ia" x="354.50" y="156" font-family="'Noto Sans CJK KR', 'Liberation Sans', sans-serif" font-size="41.8" font-weight="300" fill="#231f20" stroke="#231f20" stroke-width="0.5" textLength="40.00" lengthAdjust="spacingAndGlyphs">IA</text>
<text id="t_badge" x="307.10" y="470.5" font-family="'Noto Sans CJK KR', 'Liberation Sans', sans-serif" font-size="41.8" font-weight="300" fill="#e8262b" stroke="#e8262b" stroke-width="0.5" textLength="134.00" lengthAdjust="spacingAndGlyphs">BADGE</text>
<text id="t_badgi" x="313.90" y="861.5" font-family="'Noto Sans CJK KR', 'Liberation Sans', sans-serif" font-size="41.8" font-weight="400" fill="#3b4fa8" stroke="#3b4fa8" stroke-width="0.5" textLength="122.00" lengthAdjust="spacingAndGlyphs">BADGI</text>
<text id="t_oh1a" x="628.60" y="363.3" font-family="'Noto Sans CJK KR', 'Liberation Sans', sans-serif" font-size="37.9" font-weight="300" fill="#231f20" stroke="#231f20" stroke-width="0.5" textLength="186.00" lengthAdjust="spacingAndGlyphs">OH stretch</text>
<text id="t_oh1b" x="638.50" y="407.0" font-family="'Noto Sans CJK KR', 'Liberation Sans', sans-serif" font-size="37.9" font-weight="300" fill="#231f20" stroke="#231f20" stroke-width="0.5" textLength="165.00" lengthAdjust="spacingAndGlyphs">(carboxyl)</text>
<text id="t_oh2a" x="424.80" y="1105.5" font-family="'Noto Sans CJK KR', 'Liberation Sans', sans-serif" font-size="37.9" font-weight="300" fill="#231f20" stroke="#231f20" stroke-width="0.5" textLength="185.00" lengthAdjust="spacingAndGlyphs">OH stretch</text>
<text id="t_oh2b" x="433.90" y="1149.6" font-family="'Noto Sans CJK KR', 'Liberation Sans', sans-serif" font-size="37.9" font-weight="300" fill="#231f20" stroke="#231f20" stroke-width="0.5" textLength="169.00" lengthAdjust="spacingAndGlyphs">(hydroxyl)</text>
<text id="t_cch" x="1113.30" y="772.9" font-family="'Noto Sans CJK KR', 'Liberation Sans', sans-serif" font-size="37.9" font-weight="300" fill="#231f20" stroke="#231f20" stroke-width="0.5" textLength="123.00" lengthAdjust="spacingAndGlyphs">&#8211;C=CH</text>
<text id="t_cch2" x="1233.70" y="779.7" font-family="'Noto Sans CJK KR', 'Liberation Sans', sans-serif" font-size="24.5" font-weight="300" fill="#231f20" stroke="#231f20" stroke-width="0.5" textLength="14.00" lengthAdjust="spacingAndGlyphs">2</text>
<text id="t_cchs" x="1124.20" y="816.4" font-family="'Noto Sans CJK KR', 'Liberation Sans', sans-serif" font-size="37.9" font-weight="300" fill="#231f20" stroke="#231f20" stroke-width="0.5" textLength="115.00" lengthAdjust="spacingAndGlyphs">stretch</text>
<text id="t_co1" x="1458.60" y="816.5" font-family="'Noto Sans CJK KR', 'Liberation Sans', sans-serif" font-size="37.9" font-weight="300" fill="#231f20" stroke="#231f20" stroke-width="0.5" textLength="72.00" lengthAdjust="spacingAndGlyphs">C&#8211;O</text>
<text id="t_co2" x="1438.00" y="861.4" font-family="'Noto Sans CJK KR', 'Liberation Sans', sans-serif" font-size="37.9" font-weight="300" fill="#231f20" stroke="#231f20" stroke-width="0.5" textLength="115.00" lengthAdjust="spacingAndGlyphs">stretch</text>
<text id="t_co3" x="1432.00" y="905.0" font-family="'Noto Sans CJK KR', 'Liberation Sans', sans-serif" font-size="37.9" font-weight="300" fill="#231f20" stroke="#231f20" stroke-width="0.5" textLength="125.00" lengthAdjust="spacingAndGlyphs">(epoxy)</text>
<text id="t_cc1" x="1438.30" y="1180.0" font-family="'Noto Sans CJK KR', 'Liberation Sans', sans-serif" font-size="37.9" font-weight="300" fill="#231f20" stroke="#231f20" stroke-width="0.5" textLength="75.00" lengthAdjust="spacingAndGlyphs">C=C</text>
<text id="t_cc2" x="1408.00" y="1224.3" font-family="'Noto Sans CJK KR', 'Liberation Sans', sans-serif" font-size="37.9" font-weight="300" fill="#231f20" stroke="#231f20" stroke-width="0.5" textLength="132.00" lengthAdjust="spacingAndGlyphs">twisting</text>
<text id="t_cc3" x="1400.70" y="1268.8" font-family="'Noto Sans CJK KR', 'Liberation Sans', sans-serif" font-size="37.9" font-weight="300" fill="#231f20" stroke="#231f20" stroke-width="0.5" textLength="151.00" lengthAdjust="spacingAndGlyphs">vibration</text>
<text id="t_x4000" x="134.50" y="1396.3" font-family="'Liberation Sans', Arial, sans-serif" font-size="56.3" font-weight="400" fill="#231f20" stroke="#fff" stroke-width="0.35" textLength="122.00" lengthAdjust="spacingAndGlyphs">4000</text>
<text id="t_x3500" x="369.40" y="1396.3" font-family="'Liberation Sans', Arial, sans-serif" font-size="56.3" font-weight="400" fill="#231f20" stroke="#fff" stroke-width="0.35" textLength="122.00" lengthAdjust="spacingAndGlyphs">3500</text>
<text id="t_x3000" x="604.50" y="1396.3" font-family="'Liberation Sans', Arial, sans-serif" font-size="56.3" font-weight="400" fill="#231f20" stroke="#fff" stroke-width="0.35" textLength="121.00" lengthAdjust="spacingAndGlyphs">3000</text>
<text id="t_x2500" x="839.00" y="1396.3" font-family="'Liberation Sans', Arial, sans-serif" font-size="56.3" font-weight="400" fill="#231f20" stroke="#fff" stroke-width="0.35" textLength="124.00" lengthAdjust="spacingAndGlyphs">2500</text>
<text id="t_x2000" x="1074.20" y="1396.3" font-family="'Liberation Sans', Arial, sans-serif" font-size="56.3" font-weight="400" fill="#231f20" stroke="#fff" stroke-width="0.35" textLength="123.00" lengthAdjust="spacingAndGlyphs">2000</text>
<text id="t_x1500" x="1310.40" y="1396.3" font-family="'Liberation Sans', Arial, sans-serif" font-size="56.3" font-weight="400" fill="#231f20" stroke="#fff" stroke-width="0.35" textLength="124.00" lengthAdjust="spacingAndGlyphs">1500</text>
<text id="t_x1000" x="1546.50" y="1396.3" font-family="'Liberation Sans', Arial, sans-serif" font-size="56.3" font-weight="400" fill="#231f20" stroke="#fff" stroke-width="0.35" textLength="121.00" lengthAdjust="spacingAndGlyphs">1000</text>
<text id="t_wn" x="699.00" y="1510.7" font-family="'Liberation Sans', Arial, sans-serif" font-size="67.6" font-weight="400" fill="#231f20" stroke="#fff" stroke-width="0.35" textLength="524.00" lengthAdjust="spacingAndGlyphs">Wavenumber (cm</text>
<text id="t_wn_sup" x="1218.60" y="1482.8" font-family="'Liberation Sans', Arial, sans-serif" font-size="46.0" font-weight="400" fill="#231f20" stroke="#fff" stroke-width="0.35" textLength="41.80" lengthAdjust="spacingAndGlyphs">-1</text>
<text id="t_wn_close" x="1265.20" y="1510.7" font-family="'Liberation Sans', Arial, sans-serif" font-size="67.6" font-weight="400" fill="#231f20" stroke="#fff" stroke-width="0.35" textLength="25.90" lengthAdjust="spacingAndGlyphs">)</text>
<text id="t_ylab" transform="translate(83.5,923.00) rotate(-90)" x="0" y="0" font-family="'Liberation Sans', Arial, sans-serif" font-size="69.5" fill="#231f20" stroke="#fff" stroke-width="0.6" textLength="553.00">Transmittance (%)</text>
<line x1="1256.5" y1="778.7" x2="1320.4" y2="778.7" stroke="#111" stroke-width="2.2"/>
<polygon points="1335.4,778.7 1315.9,769.2 1315.9,788.2" fill="#231f20"/>
<line x1="1556.1" y1="827.6" x2="1620" y2="827.6" stroke="#111" stroke-width="2.2"/>
<polygon points="1635,827.6 1615.5,818.1 1615.5,837.1" fill="#231f20"/>
<line x1="1556.1" y1="1220.8" x2="1637.2" y2="1220.8" stroke="#111" stroke-width="2.2"/>
<polygon points="1652.2,1220.8 1632.7,1211.3 1632.7,1230.3" fill="#231f20"/>
</svg></body></html>
